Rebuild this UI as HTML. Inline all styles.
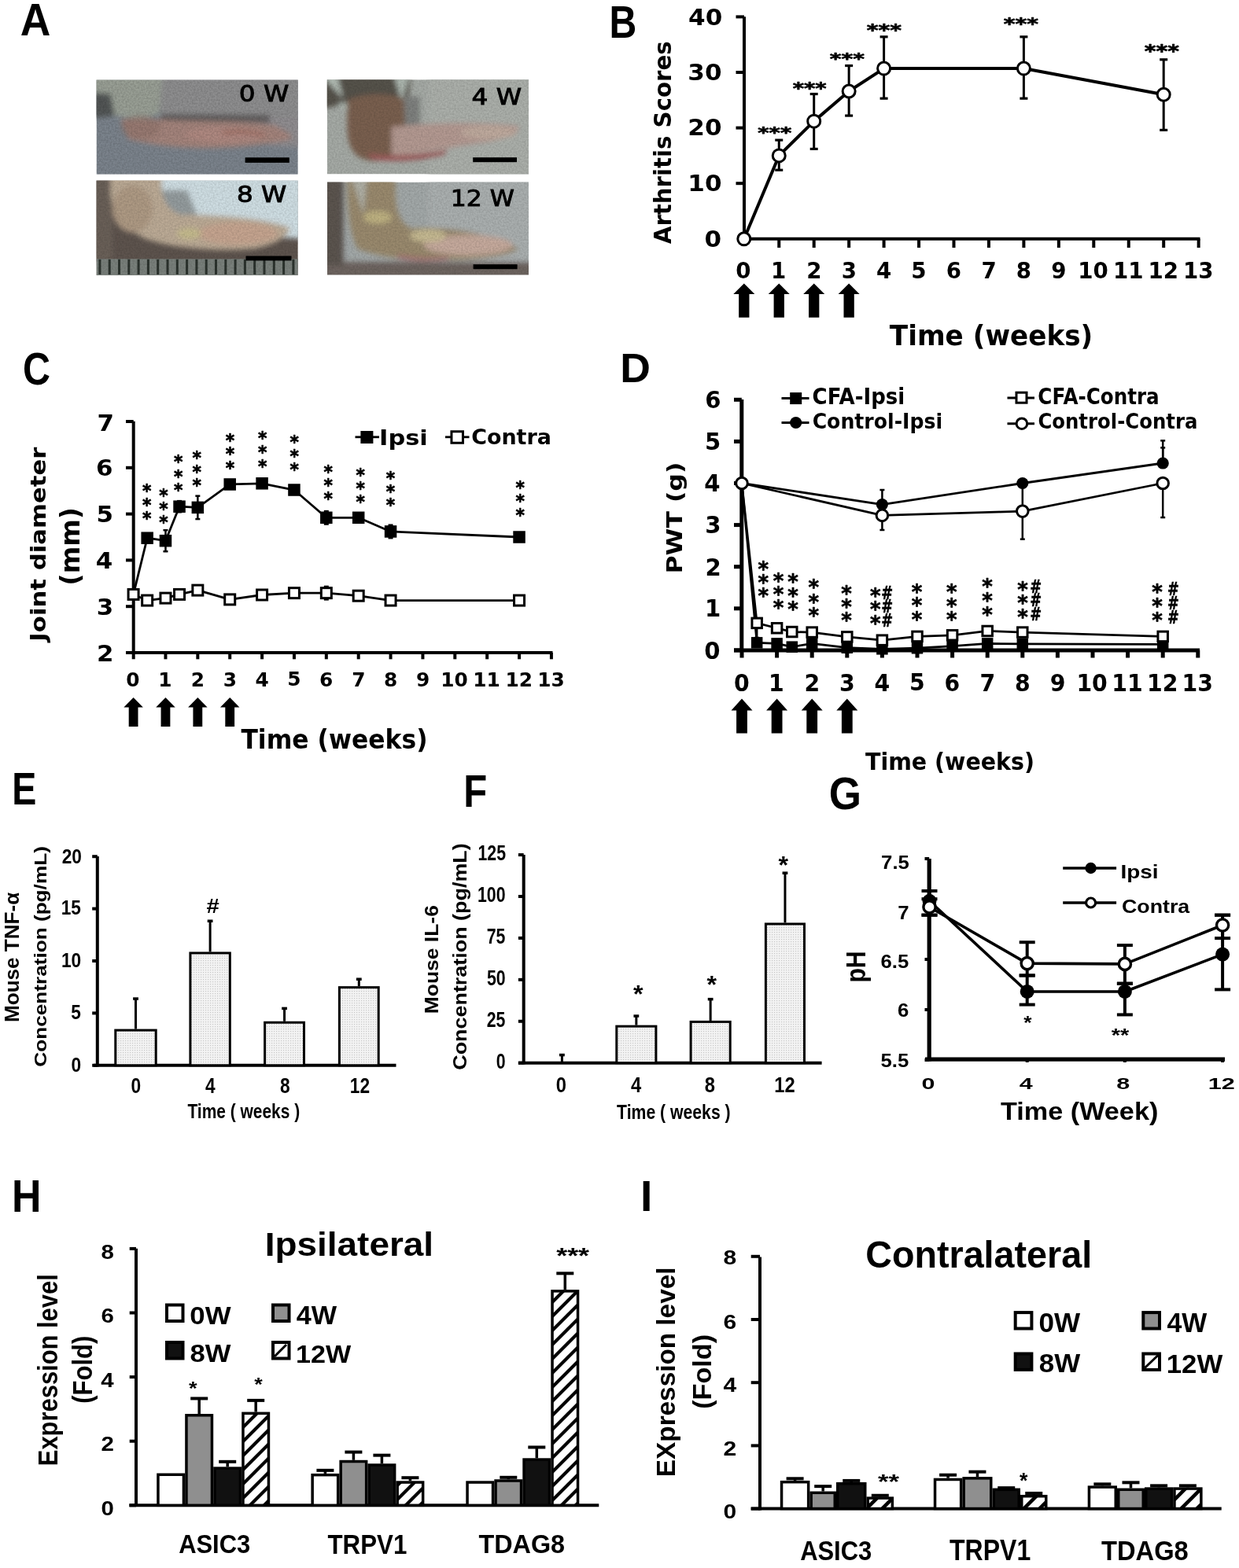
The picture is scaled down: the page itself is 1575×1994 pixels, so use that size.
<!DOCTYPE html>
<html><head><meta charset="utf-8"><title>Figure</title>
<style>html,body{margin:0;padding:0;background:#fff;}svg{display:block;filter:blur(0.55px);}</style>
</head><body>
<svg xmlns="http://www.w3.org/2000/svg" width="1575" height="1994" viewBox="0 0 1575 1994">
<rect x="0" y="0" width="1575" height="1994" fill="#fff"/>
<text transform="translate(25.81,44.55) scale(0.9347,1)" font-family='"Liberation Sans", Arial, sans-serif' font-weight="bold" font-size="57.16" fill="#000">A</text>
<text transform="translate(774.50,48.05) scale(0.8389,1)" font-family='"Liberation Sans", Arial, sans-serif' font-weight="bold" font-size="57.45" fill="#000">B</text>
<text transform="translate(29.11,488.77) scale(0.8331,1)" font-family='"Liberation Sans", Arial, sans-serif' font-weight="bold" font-size="58.09" fill="#000">C</text>
<text transform="translate(788.24,485.55) scale(1.0459,1)" font-family='"Liberation Sans", Arial, sans-serif' font-weight="bold" font-size="51.20" fill="#000">D</text>
<text transform="translate(15.30,1022.55) scale(0.8133,1)" font-family='"Liberation Sans", Arial, sans-serif' font-weight="bold" font-size="57.31" fill="#000">E</text>
<text transform="translate(589.14,1025.75) scale(0.8649,1)" font-family='"Liberation Sans", Arial, sans-serif' font-weight="bold" font-size="56.73" fill="#000">F</text>
<text transform="translate(1053.73,1028.57) scale(0.9174,1)" font-family='"Liberation Sans", Arial, sans-serif' font-weight="bold" font-size="57.81" fill="#000">G</text>
<text transform="translate(14.95,1540.55) scale(0.8990,1)" font-family='"Liberation Sans", Arial, sans-serif' font-weight="bold" font-size="57.75" fill="#000">H</text>
<text transform="translate(814.11,1539.75) scale(1.0083,1)" font-family='"Liberation Sans", Arial, sans-serif' font-weight="bold" font-size="54.98" fill="#000">I</text>
<defs>
<filter id="bl3" x="-20%" y="-20%" width="140%" height="140%"><feGaussianBlur stdDeviation="3"/></filter>
<filter id="tex" x="0" y="0" width="100%" height="100%">
 <feTurbulence type="fractalNoise" baseFrequency="0.45" numOctaves="2" seed="3" result="n"/>
 <feColorMatrix in="n" type="matrix" values="0 0 0 0 0  0 0 0 0 0  0 0 0 0 0  0 0 0 0.9 -0.25" result="a"/>
 <feComposite in="a" in2="SourceGraphic" operator="in"/>
</filter>
<clipPath id="cp1"><rect x="122.5" y="101.6" width="256.3" height="120.2"/></clipPath>
<clipPath id="cp2"><rect x="415.7" y="101.2" width="256.3" height="120.3"/></clipPath>
<clipPath id="cp3"><rect x="122.5" y="229.6" width="256.3" height="120.6"/></clipPath>
<clipPath id="cp4"><rect x="416" y="231.6" width="256" height="117.8"/></clipPath>
</defs>
<g clip-path="url(#cp1)">
<rect x="122.50" y="101.60" width="256.30" height="120.20" fill="#7c848d"/>
<g filter="url(#bl3)">
<path d="M 199.4,89.6 L 404.4,89.6 L 404.4,188.1 L 353.2,176.1 L 348.0,155.7 L 204.5,153.3 Z" fill="#8f8f90"/>
<path d="M 204.5,144.9 L 342.9,146.1 L 342.9,155.7 L 204.5,154.5 Z" fill="#625e5f"/>
<path d="M 342.9,149.7 L 404.4,149.7 L 404.4,188.1 L 342.9,185.7 Z" fill="#918e91"/>
<path d="M 96.9,89.6 L 207.1,89.6 L 202.0,144.9 L 178.9,152.1 L 148.1,147.3 L 96.9,137.7 Z" fill="#9aa096"/>
<path d="M 96.9,116.0 L 140.4,119.6 L 145.6,147.3 L 96.9,152.1 Z" fill="#525656"/>
<path d="M 153.3,152.1 C 173.8,149.7 199.4,152.1 225.0,153.3 C 276.3,154.5 327.5,154.5 348.0,159.3 C 360.9,165.3 371.1,171.3 371.1,176.1 C 353.2,182.1 314.7,186.9 276.3,188.1 C 237.8,189.3 199.4,185.7 163.5,177.3 Z" fill="#a5857d"/>
<ellipse cx="178.9" cy="161.7" rx="25.6" ry="15.6" fill="#86696365"/>
<ellipse cx="286.5" cy="171.3" rx="51.3" ry="9.6" fill="#b08a82"/>
<path d="M 281.4,167.7 C 301.9,162.9 322.4,165.3 337.8,171.3 L 332.7,173.7 C 317.3,168.9 301.9,168.9 284.0,171.3 Z" fill="#9c6a60"/>
</g>
<rect x="122.50" y="101.60" width="256.30" height="120.20" fill="#4a5054" filter="url(#tex)" opacity="0.3"/>
</g>
<rect x="311.60" y="200.30" width="56.20" height="6.60" fill="#000"/>
<text transform="translate(303.67,129.29) scale(1.1865,1)" font-family='"DejaVu Sans", "Liberation Sans", sans-serif' font-weight="normal" font-size="27.59" fill="#000" stroke="#000" stroke-width="0.9">0 W</text>
<g clip-path="url(#cp2)">
<rect x="415.70" y="101.20" width="256.30" height="120.30" fill="#a6aba6"/>
<g filter="url(#bl3)">
<path d="M 543.9,89.2 L 697.6,89.2 L 697.6,233.5 L 543.9,233.5 Z" fill="#acb0ab"/>
<path d="M 390.1,89.2 L 523.3,89.2 L 518.2,134.9 L 492.6,125.3 L 441.3,131.3 L 390.1,143.3 Z" fill="#57524b"/>
<path d="M 508.0,122.9 L 533.6,122.9 L 533.6,167.4 L 508.0,167.4 Z" fill="#7e807e"/>
<path d="M 408.0,95.2 L 428.5,95.2 L 436.2,125.3 Z" fill="#b4beb6"/>
<path d="M 500.3,95.2 L 520.8,95.2 L 510.5,130.1 Z" fill="#aeb8b0"/>
<path d="M 428.5,131.3 L 456.7,128.9 L 441.3,140.9 Z" fill="#aeb8b0"/>
<path d="M 441.3,127.7 C 461.8,118.0 492.6,118.0 513.1,125.3 L 515.7,171.0 C 513.1,192.6 497.7,204.7 472.1,204.7 C 449.0,202.3 441.3,185.4 441.3,161.3 Z" fill="#7a604f"/>
<path d="M 497.7,161.3 C 543.9,156.5 607.9,154.1 659.2,160.1 C 661.7,168.6 646.4,175.8 620.7,180.6 C 569.5,187.8 531.0,195.0 497.7,199.8 Z" fill="#b49a92"/>
<ellipse cx="620.7" cy="168.6" rx="35.9" ry="8.4" fill="#bfaa9e"/>
<path d="M 467.0,195.0 C 492.6,199.8 531.0,197.4 569.5,190.2 L 564.4,197.4 C 531.0,204.7 492.6,207.1 472.1,202.3 Z" fill="#9e5c5c"/>
</g>
<rect x="415.70" y="101.20" width="256.30" height="120.30" fill="#4a5054" filter="url(#tex)" opacity="0.25"/>
</g>
<rect x="601.20" y="200.20" width="55.80" height="6.00" fill="#000"/>
<text transform="translate(599.44,133.40) scale(1.1663,1)" font-family='"DejaVu Sans", "Liberation Sans", sans-serif' font-weight="normal" font-size="28.08" fill="#000" stroke="#000" stroke-width="0.9">4 W</text>
<g clip-path="url(#cp3)">
<rect x="122.50" y="229.60" width="256.30" height="120.60" fill="#5e544e"/>
<g filter="url(#bl3)">
<path d="M 199.4,217.5 L 404.4,217.5 L 404.4,304.4 L 353.2,302.0 L 276.3,275.4 L 207.1,273.0 Z" fill="#d0dfe4"/>
<path d="M 204.5,241.7 L 237.8,241.7 L 250.7,273.0 L 207.1,274.2 Z" fill="#949c9e"/>
<path d="M 96.9,217.5 L 143.0,217.5 L 143.0,332.1 L 96.9,332.1 Z" fill="#6a6058"/>
<path d="M 140.4,217.5 L 207.1,217.5 C 202.0,241.7 207.1,265.8 230.1,273.0 C 276.3,273.0 340.4,277.8 368.5,289.9 C 366.0,302.0 348.0,311.6 322.4,316.4 C 276.3,320.0 225.0,316.4 186.6,304.4 C 153.3,289.9 140.4,265.8 140.4,241.7 Z" fill="#bcab96"/>
<ellipse cx="301.9" cy="297.1" rx="51.3" ry="14.5" fill="#c6a590"/>
<ellipse cx="240.4" cy="297.1" rx="15.4" ry="7.2" fill="#c6bb8e"/>
<ellipse cx="168.6" cy="265.8" rx="25.6" ry="30.1" fill="#ae9a84"/>
</g>
<rect x="122.50" y="329.30" width="256.30" height="20.90" fill="#7a817c"/>
<rect x="125.40" y="329.80" width="3.00" height="19.20" fill="#2c332e"/>
<rect x="137.70" y="329.80" width="3.00" height="19.20" fill="#2c332e"/>
<rect x="150.00" y="329.80" width="3.00" height="19.20" fill="#2c332e"/>
<rect x="162.30" y="329.80" width="3.00" height="19.20" fill="#2c332e"/>
<rect x="174.60" y="329.80" width="3.00" height="19.20" fill="#2c332e"/>
<rect x="186.90" y="329.80" width="3.00" height="19.20" fill="#2c332e"/>
<rect x="199.20" y="329.80" width="3.00" height="19.20" fill="#2c332e"/>
<rect x="211.50" y="329.80" width="3.00" height="19.20" fill="#2c332e"/>
<rect x="223.80" y="329.80" width="3.00" height="19.20" fill="#2c332e"/>
<rect x="236.10" y="329.80" width="3.00" height="19.20" fill="#2c332e"/>
<rect x="248.40" y="329.80" width="3.00" height="19.20" fill="#2c332e"/>
<rect x="260.70" y="329.80" width="3.00" height="19.20" fill="#2c332e"/>
<rect x="273.00" y="329.80" width="3.00" height="19.20" fill="#2c332e"/>
<rect x="285.30" y="329.80" width="3.00" height="19.20" fill="#2c332e"/>
<rect x="297.60" y="329.80" width="3.00" height="19.20" fill="#2c332e"/>
<rect x="309.90" y="329.80" width="3.00" height="19.20" fill="#2c332e"/>
<rect x="322.20" y="329.80" width="3.00" height="19.20" fill="#2c332e"/>
<rect x="334.50" y="329.80" width="3.00" height="19.20" fill="#2c332e"/>
<rect x="346.80" y="329.80" width="3.00" height="19.20" fill="#2c332e"/>
<rect x="359.10" y="329.80" width="3.00" height="19.20" fill="#2c332e"/>
<rect x="371.40" y="329.80" width="3.00" height="19.20" fill="#2c332e"/>
<rect x="122.50" y="229.60" width="256.30" height="120.60" fill="#4a5054" filter="url(#tex)" opacity="0.25"/>
</g>
<rect x="312.50" y="325.50" width="58.00" height="5.90" fill="#000"/>
<text transform="translate(301.00,257.49) scale(1.1822,1)" font-family='"DejaVu Sans", "Liberation Sans", sans-serif' font-weight="normal" font-size="27.59" fill="#000" stroke="#000" stroke-width="0.9">8 W</text>
<g clip-path="url(#cp4)">
<rect x="416.00" y="231.60" width="256.00" height="117.80" fill="#a3a9a9"/>
<g filter="url(#bl3)">
<path d="M 544.0,219.8 L 697.6,219.8 L 697.6,361.2 L 544.0,361.2 Z" fill="#abb0b0"/>
<path d="M 390.4,332.9 L 697.6,332.9 L 697.6,361.2 L 390.4,361.2 Z" fill="#6e6560"/>
<path d="M 390.4,219.8 L 436.5,219.8 L 436.5,337.6 L 390.4,337.6 Z" fill="#5c544f"/>
<path d="M 441.6,219.8 C 467.2,219.8 492.8,219.8 503.0,231.6 C 500.5,255.2 505.6,284.6 523.5,290.5 C 569.6,287.0 620.8,296.4 659.2,316.4 C 646.4,325.8 608.0,330.6 569.6,330.6 C 518.4,332.9 480.0,325.8 454.4,316.4 C 441.6,290.5 441.6,255.2 441.6,219.8 Z" fill="#9a8a6e"/>
<ellipse cx="595.2" cy="311.7" rx="56.3" ry="13.0" fill="#c6aa9d"/>
<ellipse cx="480.0" cy="276.4" rx="17.9" ry="8.2" fill="#bfb282"/>
<ellipse cx="544.0" cy="299.9" rx="23.0" ry="8.2" fill="#c6ba92"/>
<path d="M 444.2,219.8 L 467.2,219.8 L 462.1,272.8 Z" fill="#b0b0a6"/>
<path d="M 505.6,323.5 C 531.2,328.2 556.8,328.2 569.6,325.8 L 569.6,330.6 C 544.0,332.9 523.5,331.7 505.6,328.2 Z" fill="#a46e6e"/>
</g>
<rect x="416.00" y="231.60" width="256.00" height="117.80" fill="#4a5054" filter="url(#tex)" opacity="0.25"/>
</g>
<rect x="601.60" y="336.20" width="56.00" height="6.00" fill="#000"/>
<text transform="translate(572.64,261.90) scale(1.1244,1)" font-family='"DejaVu Sans", "Liberation Sans", sans-serif' font-weight="normal" font-size="28.01" fill="#000" stroke="#000" stroke-width="0.9">12 W</text>
<line x1="946.00" y1="21.30" x2="946.00" y2="305.80" stroke="#000" stroke-width="4" stroke-linecap="butt"/>
<line x1="944.00" y1="303.80" x2="1525.50" y2="303.80" stroke="#000" stroke-width="4" stroke-linecap="butt"/>
<line x1="935.50" y1="233.20" x2="946.00" y2="233.20" stroke="#000" stroke-width="4" stroke-linecap="butt"/>
<line x1="935.50" y1="162.60" x2="946.00" y2="162.60" stroke="#000" stroke-width="4" stroke-linecap="butt"/>
<line x1="935.50" y1="92.00" x2="946.00" y2="92.00" stroke="#000" stroke-width="4" stroke-linecap="butt"/>
<line x1="935.50" y1="21.40" x2="946.00" y2="21.40" stroke="#000" stroke-width="4" stroke-linecap="butt"/>
<line x1="990.25" y1="303.80" x2="990.25" y2="315.00" stroke="#000" stroke-width="4" stroke-linecap="butt"/>
<line x1="1034.70" y1="303.80" x2="1034.70" y2="315.00" stroke="#000" stroke-width="4" stroke-linecap="butt"/>
<line x1="1079.15" y1="303.80" x2="1079.15" y2="315.00" stroke="#000" stroke-width="4" stroke-linecap="butt"/>
<line x1="1123.60" y1="303.80" x2="1123.60" y2="315.00" stroke="#000" stroke-width="4" stroke-linecap="butt"/>
<line x1="1168.05" y1="303.80" x2="1168.05" y2="315.00" stroke="#000" stroke-width="4" stroke-linecap="butt"/>
<line x1="1212.50" y1="303.80" x2="1212.50" y2="315.00" stroke="#000" stroke-width="4" stroke-linecap="butt"/>
<line x1="1256.95" y1="303.80" x2="1256.95" y2="315.00" stroke="#000" stroke-width="4" stroke-linecap="butt"/>
<line x1="1301.40" y1="303.80" x2="1301.40" y2="315.00" stroke="#000" stroke-width="4" stroke-linecap="butt"/>
<line x1="1345.85" y1="303.80" x2="1345.85" y2="315.00" stroke="#000" stroke-width="4" stroke-linecap="butt"/>
<line x1="1390.30" y1="303.80" x2="1390.30" y2="315.00" stroke="#000" stroke-width="4" stroke-linecap="butt"/>
<line x1="1434.75" y1="303.80" x2="1434.75" y2="315.00" stroke="#000" stroke-width="4" stroke-linecap="butt"/>
<line x1="1479.20" y1="303.80" x2="1479.20" y2="315.00" stroke="#000" stroke-width="4" stroke-linecap="butt"/>
<line x1="1523.65" y1="303.80" x2="1523.65" y2="315.00" stroke="#000" stroke-width="4" stroke-linecap="butt"/>
<text transform="translate(875.10,31.58) scale(1.1204,1)" font-family='"DejaVu Sans", "Liberation Sans", sans-serif' font-weight="bold" font-size="27.72" fill="#000">40</text>
<text transform="translate(874.30,101.78) scale(1.1204,1)" font-family='"DejaVu Sans", "Liberation Sans", sans-serif' font-weight="bold" font-size="27.72" fill="#000">30</text>
<text transform="translate(874.30,172.38) scale(1.1204,1)" font-family='"DejaVu Sans", "Liberation Sans", sans-serif' font-weight="bold" font-size="27.72" fill="#000">20</text>
<text transform="translate(874.30,242.98) scale(1.1204,1)" font-family='"DejaVu Sans", "Liberation Sans", sans-serif' font-weight="bold" font-size="27.72" fill="#000">10</text>
<text transform="translate(895.39,314.08) scale(1.1204,1)" font-family='"DejaVu Sans", "Liberation Sans", sans-serif' font-weight="bold" font-size="27.72" fill="#000">0</text>
<text transform="translate(935.29,353.87) scale(0.9748,1)" font-family='"DejaVu Sans", "Liberation Sans", sans-serif' font-weight="bold" font-size="28.38" fill="#000">0</text>
<text transform="translate(980.01,353.91) scale(0.9748,1)" font-family='"DejaVu Sans", "Liberation Sans", sans-serif' font-weight="bold" font-size="28.38" fill="#000">1</text>
<text transform="translate(1025.15,354.09) scale(0.9748,1)" font-family='"DejaVu Sans", "Liberation Sans", sans-serif' font-weight="bold" font-size="28.38" fill="#000">2</text>
<text transform="translate(1069.67,353.87) scale(0.9748,1)" font-family='"DejaVu Sans", "Liberation Sans", sans-serif' font-weight="bold" font-size="28.38" fill="#000">3</text>
<text transform="translate(1113.99,353.91) scale(0.9748,1)" font-family='"DejaVu Sans", "Liberation Sans", sans-serif' font-weight="bold" font-size="28.38" fill="#000">4</text>
<text transform="translate(1158.33,353.70) scale(0.9748,1)" font-family='"DejaVu Sans", "Liberation Sans", sans-serif' font-weight="bold" font-size="28.38" fill="#000">5</text>
<text transform="translate(1202.75,353.84) scale(0.9748,1)" font-family='"DejaVu Sans", "Liberation Sans", sans-serif' font-weight="bold" font-size="28.38" fill="#000">6</text>
<text transform="translate(1247.47,353.91) scale(0.9748,1)" font-family='"DejaVu Sans", "Liberation Sans", sans-serif' font-weight="bold" font-size="28.38" fill="#000">7</text>
<text transform="translate(1291.79,353.87) scale(0.9748,1)" font-family='"DejaVu Sans", "Liberation Sans", sans-serif' font-weight="bold" font-size="28.38" fill="#000">8</text>
<text transform="translate(1336.37,353.84) scale(0.9748,1)" font-family='"DejaVu Sans", "Liberation Sans", sans-serif' font-weight="bold" font-size="28.38" fill="#000">9</text>
<text transform="translate(1370.17,353.87) scale(0.9748,1)" font-family='"DejaVu Sans", "Liberation Sans", sans-serif' font-weight="bold" font-size="28.38" fill="#000">10</text>
<text transform="translate(1414.90,353.91) scale(0.9748,1)" font-family='"DejaVu Sans", "Liberation Sans", sans-serif' font-weight="bold" font-size="28.38" fill="#000">11</text>
<text transform="translate(1459.59,354.09) scale(0.9748,1)" font-family='"DejaVu Sans", "Liberation Sans", sans-serif' font-weight="bold" font-size="28.38" fill="#000">12</text>
<text transform="translate(1503.94,353.87) scale(0.9748,1)" font-family='"DejaVu Sans", "Liberation Sans", sans-serif' font-weight="bold" font-size="28.38" fill="#000">13</text>
<polygon points="945.80,360.50 959.30,374.00 952.45,374.00 952.45,403.80 939.15,403.80 939.15,374.00 932.30,374.00" fill="#000"/>
<polygon points="990.25,360.50 1003.75,374.00 996.90,374.00 996.90,403.80 983.60,403.80 983.60,374.00 976.75,374.00" fill="#000"/>
<polygon points="1034.70,360.50 1048.20,374.00 1041.35,374.00 1041.35,403.80 1028.05,403.80 1028.05,374.00 1021.20,374.00" fill="#000"/>
<polygon points="1079.15,360.50 1092.65,374.00 1085.80,374.00 1085.80,403.80 1072.50,403.80 1072.50,374.00 1065.65,374.00" fill="#000"/>
<text transform="translate(1130.83,438.58) scale(0.9440,1)" font-family='"DejaVu Sans", "Liberation Sans", sans-serif' font-weight="bold" font-size="36.29" fill="#000">Time (weeks)</text>
<text transform="translate(852.94,310.25) rotate(-90) scale(0.9444,1)" font-family='"DejaVu Sans", "Liberation Sans", sans-serif' font-weight="bold" font-size="30.97" fill="#000">Arthritis Scores</text>
<line x1="990.25" y1="178.13" x2="990.25" y2="216.26" stroke="#000" stroke-width="3" stroke-linecap="butt"/>
<line x1="985.25" y1="178.13" x2="995.25" y2="178.13" stroke="#000" stroke-width="3.2" stroke-linecap="butt"/>
<line x1="985.25" y1="216.26" x2="995.25" y2="216.26" stroke="#000" stroke-width="3.2" stroke-linecap="butt"/>
<line x1="1034.70" y1="119.53" x2="1034.70" y2="189.43" stroke="#000" stroke-width="3" stroke-linecap="butt"/>
<line x1="1029.70" y1="119.53" x2="1039.70" y2="119.53" stroke="#000" stroke-width="3.2" stroke-linecap="butt"/>
<line x1="1029.70" y1="189.43" x2="1039.70" y2="189.43" stroke="#000" stroke-width="3.2" stroke-linecap="butt"/>
<line x1="1079.15" y1="83.53" x2="1079.15" y2="147.07" stroke="#000" stroke-width="3" stroke-linecap="butt"/>
<line x1="1074.15" y1="83.53" x2="1084.15" y2="83.53" stroke="#000" stroke-width="3.2" stroke-linecap="butt"/>
<line x1="1074.15" y1="147.07" x2="1084.15" y2="147.07" stroke="#000" stroke-width="3.2" stroke-linecap="butt"/>
<line x1="1123.60" y1="46.82" x2="1123.60" y2="125.18" stroke="#000" stroke-width="3" stroke-linecap="butt"/>
<line x1="1118.60" y1="46.82" x2="1128.60" y2="46.82" stroke="#000" stroke-width="3.2" stroke-linecap="butt"/>
<line x1="1118.60" y1="125.18" x2="1128.60" y2="125.18" stroke="#000" stroke-width="3.2" stroke-linecap="butt"/>
<line x1="1301.40" y1="46.82" x2="1301.40" y2="125.18" stroke="#000" stroke-width="3" stroke-linecap="butt"/>
<line x1="1296.40" y1="46.82" x2="1306.40" y2="46.82" stroke="#000" stroke-width="3.2" stroke-linecap="butt"/>
<line x1="1296.40" y1="125.18" x2="1306.40" y2="125.18" stroke="#000" stroke-width="3.2" stroke-linecap="butt"/>
<line x1="1479.20" y1="75.76" x2="1479.20" y2="165.42" stroke="#000" stroke-width="3" stroke-linecap="butt"/>
<line x1="1474.20" y1="75.76" x2="1484.20" y2="75.76" stroke="#000" stroke-width="3.2" stroke-linecap="butt"/>
<line x1="1474.20" y1="165.42" x2="1484.20" y2="165.42" stroke="#000" stroke-width="3.2" stroke-linecap="butt"/>
<polyline points="945.80,303.80 990.25,197.90 1034.70,154.13 1079.15,116.00 1123.60,87.06 1301.40,87.06 1479.20,120.24" fill="none" stroke="#000" stroke-width="4" stroke-linejoin="round"/>
<circle cx="945.80" cy="303.80" r="8.00" fill="#fff" stroke="#000" stroke-width="3"/>
<circle cx="990.25" cy="197.90" r="8.00" fill="#fff" stroke="#000" stroke-width="3"/>
<circle cx="1034.70" cy="154.13" r="8.00" fill="#fff" stroke="#000" stroke-width="3"/>
<circle cx="1079.15" cy="116.00" r="8.00" fill="#fff" stroke="#000" stroke-width="3"/>
<circle cx="1123.60" cy="87.06" r="8.00" fill="#fff" stroke="#000" stroke-width="3"/>
<circle cx="1301.40" cy="87.06" r="8.00" fill="#fff" stroke="#000" stroke-width="3"/>
<circle cx="1479.20" cy="120.24" r="8.00" fill="#fff" stroke="#000" stroke-width="3"/>
<text transform="translate(963.35,174.75) scale(1.4425,1)" font-family='"DejaVu Sans", "Liberation Sans", sans-serif' font-weight="bold" font-size="18.92" fill="#000" stroke="#000" stroke-width="0.7" stroke-linejoin="round">***</text>
<text transform="translate(1007.75,119.57) scale(1.2725,1)" font-family='"DejaVu Sans", "Liberation Sans", sans-serif' font-weight="bold" font-size="21.51" fill="#000" stroke="#000" stroke-width="0.7" stroke-linejoin="round">***</text>
<text transform="translate(1054.74,81.05) scale(1.4075,1)" font-family='"DejaVu Sans", "Liberation Sans", sans-serif' font-weight="bold" font-size="20.00" fill="#000" stroke="#000" stroke-width="0.7" stroke-linejoin="round">***</text>
<text transform="translate(1101.74,45.87) scale(1.3090,1)" font-family='"DejaVu Sans", "Liberation Sans", sans-serif' font-weight="bold" font-size="21.51" fill="#000" stroke="#000" stroke-width="0.7" stroke-linejoin="round">***</text>
<text transform="translate(1275.74,38.27) scale(1.3090,1)" font-family='"DejaVu Sans", "Liberation Sans", sans-serif' font-weight="bold" font-size="21.51" fill="#000" stroke="#000" stroke-width="0.7" stroke-linejoin="round">***</text>
<text transform="translate(1454.74,72.63) scale(1.2349,1)" font-family='"DejaVu Sans", "Liberation Sans", sans-serif' font-weight="bold" font-size="22.80" fill="#000" stroke="#000" stroke-width="0.7" stroke-linejoin="round">***</text>
<line x1="169.70" y1="535.80" x2="169.70" y2="838.30" stroke="#000" stroke-width="4" stroke-linecap="butt"/>
<line x1="160.00" y1="830.00" x2="702.50" y2="830.00" stroke="#000" stroke-width="4" stroke-linecap="butt"/>
<line x1="160.00" y1="771.20" x2="169.70" y2="771.20" stroke="#000" stroke-width="4" stroke-linecap="butt"/>
<line x1="160.00" y1="712.40" x2="169.70" y2="712.40" stroke="#000" stroke-width="4" stroke-linecap="butt"/>
<line x1="160.00" y1="653.60" x2="169.70" y2="653.60" stroke="#000" stroke-width="4" stroke-linecap="butt"/>
<line x1="160.00" y1="594.80" x2="169.70" y2="594.80" stroke="#000" stroke-width="4" stroke-linecap="butt"/>
<line x1="160.00" y1="536.00" x2="169.70" y2="536.00" stroke="#000" stroke-width="4" stroke-linecap="butt"/>
<line x1="210.47" y1="830.00" x2="210.47" y2="838.30" stroke="#000" stroke-width="4" stroke-linecap="butt"/>
<line x1="251.34" y1="830.00" x2="251.34" y2="838.30" stroke="#000" stroke-width="4" stroke-linecap="butt"/>
<line x1="292.21" y1="830.00" x2="292.21" y2="838.30" stroke="#000" stroke-width="4" stroke-linecap="butt"/>
<line x1="333.08" y1="830.00" x2="333.08" y2="838.30" stroke="#000" stroke-width="4" stroke-linecap="butt"/>
<line x1="373.95" y1="830.00" x2="373.95" y2="838.30" stroke="#000" stroke-width="4" stroke-linecap="butt"/>
<line x1="414.82" y1="830.00" x2="414.82" y2="838.30" stroke="#000" stroke-width="4" stroke-linecap="butt"/>
<line x1="455.69" y1="830.00" x2="455.69" y2="838.30" stroke="#000" stroke-width="4" stroke-linecap="butt"/>
<line x1="496.56" y1="830.00" x2="496.56" y2="838.30" stroke="#000" stroke-width="4" stroke-linecap="butt"/>
<line x1="537.43" y1="830.00" x2="537.43" y2="838.30" stroke="#000" stroke-width="4" stroke-linecap="butt"/>
<line x1="578.30" y1="830.00" x2="578.30" y2="838.30" stroke="#000" stroke-width="4" stroke-linecap="butt"/>
<line x1="619.17" y1="830.00" x2="619.17" y2="838.30" stroke="#000" stroke-width="4" stroke-linecap="butt"/>
<line x1="660.04" y1="830.00" x2="660.04" y2="838.30" stroke="#000" stroke-width="4" stroke-linecap="butt"/>
<line x1="700.91" y1="830.00" x2="700.91" y2="838.30" stroke="#000" stroke-width="4" stroke-linecap="butt"/>
<text transform="translate(123.51,547.60) scale(1.0593,1)" font-family='"DejaVu Sans", "Liberation Sans", sans-serif' font-weight="bold" font-size="29.18" fill="#000">7</text>
<text transform="translate(122.95,840.83) scale(1.0593,1)" font-family='"DejaVu Sans", "Liberation Sans", sans-serif' font-weight="bold" font-size="29.18" fill="#000">2</text>
<text transform="translate(122.71,781.81) scale(1.0593,1)" font-family='"DejaVu Sans", "Liberation Sans", sans-serif' font-weight="bold" font-size="29.18" fill="#000">3</text>
<text transform="translate(121.71,723.05) scale(1.0593,1)" font-family='"DejaVu Sans", "Liberation Sans", sans-serif' font-weight="bold" font-size="29.18" fill="#000">4</text>
<text transform="translate(122.48,664.03) scale(1.0593,1)" font-family='"DejaVu Sans", "Liberation Sans", sans-serif' font-weight="bold" font-size="29.18" fill="#000">5</text>
<text transform="translate(121.94,605.38) scale(1.0593,1)" font-family='"DejaVu Sans", "Liberation Sans", sans-serif' font-weight="bold" font-size="29.18" fill="#000">6</text>
<text transform="translate(160.22,872.53) scale(1.0114,1)" font-family='"DejaVu Sans", "Liberation Sans", sans-serif' font-weight="bold" font-size="24.55" fill="#000">0</text>
<text transform="translate(201.28,872.56) scale(1.0114,1)" font-family='"DejaVu Sans", "Liberation Sans", sans-serif' font-weight="bold" font-size="24.55" fill="#000">1</text>
<text transform="translate(242.77,872.72) scale(1.0114,1)" font-family='"DejaVu Sans", "Liberation Sans", sans-serif' font-weight="bold" font-size="24.55" fill="#000">2</text>
<text transform="translate(283.70,872.53) scale(1.0114,1)" font-family='"DejaVu Sans", "Liberation Sans", sans-serif' font-weight="bold" font-size="24.55" fill="#000">3</text>
<text transform="translate(324.45,872.56) scale(1.0114,1)" font-family='"DejaVu Sans", "Liberation Sans", sans-serif' font-weight="bold" font-size="24.55" fill="#000">4</text>
<text transform="translate(365.23,872.38) scale(1.0114,1)" font-family='"DejaVu Sans", "Liberation Sans", sans-serif' font-weight="bold" font-size="24.55" fill="#000">5</text>
<text transform="translate(406.07,872.50) scale(1.0114,1)" font-family='"DejaVu Sans", "Liberation Sans", sans-serif' font-weight="bold" font-size="24.55" fill="#000">6</text>
<text transform="translate(447.18,872.56) scale(1.0114,1)" font-family='"DejaVu Sans", "Liberation Sans", sans-serif' font-weight="bold" font-size="24.55" fill="#000">7</text>
<text transform="translate(487.93,872.53) scale(1.0114,1)" font-family='"DejaVu Sans", "Liberation Sans", sans-serif' font-weight="bold" font-size="24.55" fill="#000">8</text>
<text transform="translate(528.92,872.50) scale(1.0114,1)" font-family='"DejaVu Sans", "Liberation Sans", sans-serif' font-weight="bold" font-size="24.55" fill="#000">9</text>
<text transform="translate(560.23,872.53) scale(1.0114,1)" font-family='"DejaVu Sans", "Liberation Sans", sans-serif' font-weight="bold" font-size="24.55" fill="#000">10</text>
<text transform="translate(601.35,872.56) scale(1.0114,1)" font-family='"DejaVu Sans", "Liberation Sans", sans-serif' font-weight="bold" font-size="24.55" fill="#000">11</text>
<text transform="translate(642.44,872.72) scale(1.0114,1)" font-family='"DejaVu Sans", "Liberation Sans", sans-serif' font-weight="bold" font-size="24.55" fill="#000">12</text>
<text transform="translate(683.22,872.53) scale(1.0114,1)" font-family='"DejaVu Sans", "Liberation Sans", sans-serif' font-weight="bold" font-size="24.55" fill="#000">13</text>
<polygon points="169.60,887.00 181.85,899.50 175.50,899.50 175.50,924.00 163.70,924.00 163.70,899.50 157.35,899.50" fill="#000"/>
<polygon points="210.47,887.00 222.72,899.50 216.37,899.50 216.37,924.00 204.57,924.00 204.57,899.50 198.22,899.50" fill="#000"/>
<polygon points="251.34,887.00 263.59,899.50 257.24,899.50 257.24,924.00 245.44,924.00 245.44,899.50 239.09,899.50" fill="#000"/>
<polygon points="292.21,887.00 304.46,899.50 298.11,899.50 298.11,924.00 286.31,924.00 286.31,899.50 279.96,899.50" fill="#000"/>
<text transform="translate(306.44,952.27) scale(0.9231,1)" font-family='"DejaVu Sans", "Liberation Sans", sans-serif' font-weight="bold" font-size="34.04" fill="#000">Time (weeks)</text>
<text transform="translate(58.25,815.63) rotate(-90) scale(1.1942,1)" font-family='"DejaVu Sans", "Liberation Sans", sans-serif' font-weight="bold" font-size="25.73" fill="#000">Joint diameter</text>
<text transform="translate(100.58,744.42) rotate(-90) scale(0.9962,1)" font-family='"DejaVu Sans", "Liberation Sans", sans-serif' font-weight="bold" font-size="33.26" fill="#000">(mm)</text>
<line x1="210.47" y1="674.18" x2="210.47" y2="701.23" stroke="#000" stroke-width="2.5" stroke-linecap="butt"/>
<line x1="207.47" y1="674.18" x2="213.47" y2="674.18" stroke="#000" stroke-width="2.5" stroke-linecap="butt"/>
<line x1="207.47" y1="701.23" x2="213.47" y2="701.23" stroke="#000" stroke-width="2.5" stroke-linecap="butt"/>
<line x1="228.04" y1="637.14" x2="228.04" y2="651.25" stroke="#000" stroke-width="2.5" stroke-linecap="butt"/>
<line x1="225.04" y1="637.14" x2="231.04" y2="637.14" stroke="#000" stroke-width="2.5" stroke-linecap="butt"/>
<line x1="225.04" y1="651.25" x2="231.04" y2="651.25" stroke="#000" stroke-width="2.5" stroke-linecap="butt"/>
<line x1="251.34" y1="630.67" x2="251.34" y2="660.07" stroke="#000" stroke-width="2.5" stroke-linecap="butt"/>
<line x1="248.34" y1="630.67" x2="254.34" y2="630.67" stroke="#000" stroke-width="2.5" stroke-linecap="butt"/>
<line x1="248.34" y1="660.07" x2="254.34" y2="660.07" stroke="#000" stroke-width="2.5" stroke-linecap="butt"/>
<line x1="414.82" y1="650.07" x2="414.82" y2="666.54" stroke="#000" stroke-width="2.5" stroke-linecap="butt"/>
<line x1="411.82" y1="650.07" x2="417.82" y2="650.07" stroke="#000" stroke-width="2.5" stroke-linecap="butt"/>
<line x1="411.82" y1="666.54" x2="417.82" y2="666.54" stroke="#000" stroke-width="2.5" stroke-linecap="butt"/>
<line x1="496.56" y1="667.71" x2="496.56" y2="684.18" stroke="#000" stroke-width="2.5" stroke-linecap="butt"/>
<line x1="493.56" y1="667.71" x2="499.56" y2="667.71" stroke="#000" stroke-width="2.5" stroke-linecap="butt"/>
<line x1="493.56" y1="684.18" x2="499.56" y2="684.18" stroke="#000" stroke-width="2.5" stroke-linecap="butt"/>
<line x1="187.17" y1="680.65" x2="187.17" y2="687.70" stroke="#000" stroke-width="2.5" stroke-linecap="butt"/>
<line x1="184.17" y1="680.65" x2="190.17" y2="680.65" stroke="#000" stroke-width="2.5" stroke-linecap="butt"/>
<line x1="184.17" y1="687.70" x2="190.17" y2="687.70" stroke="#000" stroke-width="2.5" stroke-linecap="butt"/>
<line x1="414.82" y1="745.92" x2="414.82" y2="762.38" stroke="#000" stroke-width="2.5" stroke-linecap="butt"/>
<line x1="411.82" y1="745.92" x2="417.82" y2="745.92" stroke="#000" stroke-width="2.5" stroke-linecap="butt"/>
<line x1="411.82" y1="762.38" x2="417.82" y2="762.38" stroke="#000" stroke-width="2.5" stroke-linecap="butt"/>
<polyline points="169.60,755.91 187.17,684.18 210.47,687.70 228.04,644.19 251.34,645.37 292.21,615.97 333.08,614.79 373.95,623.02 414.82,658.30 455.69,658.30 496.56,675.94 660.04,683.00" fill="none" stroke="#000" stroke-width="2.8" stroke-linejoin="round"/>
<polyline points="169.60,755.91 187.17,763.56 210.47,760.62 228.04,755.91 251.34,750.62 292.21,762.38 333.08,756.50 373.95,754.15 414.82,754.15 455.69,757.68 496.56,763.56 660.04,763.56" fill="none" stroke="#000" stroke-width="2.8" stroke-linejoin="round"/>
<rect x="180.17" y="677.18" width="14.00" height="14.00" fill="#000" stroke="#000" stroke-width="1.5"/>
<rect x="203.47" y="680.70" width="14.00" height="14.00" fill="#000" stroke="#000" stroke-width="1.5"/>
<rect x="221.04" y="637.19" width="14.00" height="14.00" fill="#000" stroke="#000" stroke-width="1.5"/>
<rect x="244.34" y="638.37" width="14.00" height="14.00" fill="#000" stroke="#000" stroke-width="1.5"/>
<rect x="285.21" y="608.97" width="14.00" height="14.00" fill="#000" stroke="#000" stroke-width="1.5"/>
<rect x="326.08" y="607.79" width="14.00" height="14.00" fill="#000" stroke="#000" stroke-width="1.5"/>
<rect x="366.95" y="616.02" width="14.00" height="14.00" fill="#000" stroke="#000" stroke-width="1.5"/>
<rect x="407.82" y="651.30" width="14.00" height="14.00" fill="#000" stroke="#000" stroke-width="1.5"/>
<rect x="448.69" y="651.30" width="14.00" height="14.00" fill="#000" stroke="#000" stroke-width="1.5"/>
<rect x="489.56" y="668.94" width="14.00" height="14.00" fill="#000" stroke="#000" stroke-width="1.5"/>
<rect x="653.04" y="676.00" width="14.00" height="14.00" fill="#000" stroke="#000" stroke-width="1.5"/>
<rect x="163.10" y="749.41" width="13.00" height="13.00" fill="#fff" stroke="#000" stroke-width="3"/>
<rect x="180.67" y="757.06" width="13.00" height="13.00" fill="#fff" stroke="#000" stroke-width="3"/>
<rect x="203.97" y="754.12" width="13.00" height="13.00" fill="#fff" stroke="#000" stroke-width="3"/>
<rect x="221.54" y="749.41" width="13.00" height="13.00" fill="#fff" stroke="#000" stroke-width="3"/>
<rect x="244.84" y="744.12" width="13.00" height="13.00" fill="#fff" stroke="#000" stroke-width="3"/>
<rect x="285.71" y="755.88" width="13.00" height="13.00" fill="#fff" stroke="#000" stroke-width="3"/>
<rect x="326.58" y="750.00" width="13.00" height="13.00" fill="#fff" stroke="#000" stroke-width="3"/>
<rect x="367.45" y="747.65" width="13.00" height="13.00" fill="#fff" stroke="#000" stroke-width="3"/>
<rect x="408.32" y="747.65" width="13.00" height="13.00" fill="#fff" stroke="#000" stroke-width="3"/>
<rect x="449.19" y="751.18" width="13.00" height="13.00" fill="#fff" stroke="#000" stroke-width="3"/>
<rect x="490.06" y="757.06" width="13.00" height="13.00" fill="#fff" stroke="#000" stroke-width="3"/>
<rect x="653.54" y="757.06" width="13.00" height="13.00" fill="#fff" stroke="#000" stroke-width="3"/>
<text transform="translate(181.11,632.42) scale(0.9637,1)" font-family='"DejaVu Sans", "Liberation Sans", sans-serif' font-weight="bold" font-size="22.58" fill="#000" stroke="#000" stroke-width="0.7" stroke-linejoin="round">*</text>
<text transform="translate(181.11,650.02) scale(0.9637,1)" font-family='"DejaVu Sans", "Liberation Sans", sans-serif' font-weight="bold" font-size="22.58" fill="#000" stroke="#000" stroke-width="0.7" stroke-linejoin="round">*</text>
<text transform="translate(181.11,666.52) scale(0.9637,1)" font-family='"DejaVu Sans", "Liberation Sans", sans-serif' font-weight="bold" font-size="22.58" fill="#000" stroke="#000" stroke-width="0.7" stroke-linejoin="round">*</text>
<text transform="translate(202.21,638.32) scale(0.9637,1)" font-family='"DejaVu Sans", "Liberation Sans", sans-serif' font-weight="bold" font-size="22.58" fill="#000" stroke="#000" stroke-width="0.7" stroke-linejoin="round">*</text>
<text transform="translate(202.21,654.72) scale(0.9637,1)" font-family='"DejaVu Sans", "Liberation Sans", sans-serif' font-weight="bold" font-size="22.58" fill="#000" stroke="#000" stroke-width="0.7" stroke-linejoin="round">*</text>
<text transform="translate(202.21,672.32) scale(0.9637,1)" font-family='"DejaVu Sans", "Liberation Sans", sans-serif' font-weight="bold" font-size="22.58" fill="#000" stroke="#000" stroke-width="0.7" stroke-linejoin="round">*</text>
<text transform="translate(221.01,595.32) scale(0.9637,1)" font-family='"DejaVu Sans", "Liberation Sans", sans-serif' font-weight="bold" font-size="22.58" fill="#000" stroke="#000" stroke-width="0.7" stroke-linejoin="round">*</text>
<text transform="translate(221.01,613.62) scale(0.9637,1)" font-family='"DejaVu Sans", "Liberation Sans", sans-serif' font-weight="bold" font-size="22.58" fill="#000" stroke="#000" stroke-width="0.7" stroke-linejoin="round">*</text>
<text transform="translate(221.01,631.22) scale(0.9637,1)" font-family='"DejaVu Sans", "Liberation Sans", sans-serif' font-weight="bold" font-size="22.58" fill="#000" stroke="#000" stroke-width="0.7" stroke-linejoin="round">*</text>
<text transform="translate(244.51,590.12) scale(0.9637,1)" font-family='"DejaVu Sans", "Liberation Sans", sans-serif' font-weight="bold" font-size="22.58" fill="#000" stroke="#000" stroke-width="0.7" stroke-linejoin="round">*</text>
<text transform="translate(244.51,607.72) scale(0.9637,1)" font-family='"DejaVu Sans", "Liberation Sans", sans-serif' font-weight="bold" font-size="22.58" fill="#000" stroke="#000" stroke-width="0.7" stroke-linejoin="round">*</text>
<text transform="translate(244.51,625.32) scale(0.9637,1)" font-family='"DejaVu Sans", "Liberation Sans", sans-serif' font-weight="bold" font-size="22.58" fill="#000" stroke="#000" stroke-width="0.7" stroke-linejoin="round">*</text>
<text transform="translate(286.81,567.82) scale(0.9637,1)" font-family='"DejaVu Sans", "Liberation Sans", sans-serif' font-weight="bold" font-size="22.58" fill="#000" stroke="#000" stroke-width="0.7" stroke-linejoin="round">*</text>
<text transform="translate(286.81,585.42) scale(0.9637,1)" font-family='"DejaVu Sans", "Liberation Sans", sans-serif' font-weight="bold" font-size="22.58" fill="#000" stroke="#000" stroke-width="0.7" stroke-linejoin="round">*</text>
<text transform="translate(286.81,603.02) scale(0.9637,1)" font-family='"DejaVu Sans", "Liberation Sans", sans-serif' font-weight="bold" font-size="22.58" fill="#000" stroke="#000" stroke-width="0.7" stroke-linejoin="round">*</text>
<text transform="translate(327.91,565.42) scale(0.9637,1)" font-family='"DejaVu Sans", "Liberation Sans", sans-serif' font-weight="bold" font-size="22.58" fill="#000" stroke="#000" stroke-width="0.7" stroke-linejoin="round">*</text>
<text transform="translate(327.91,583.12) scale(0.9637,1)" font-family='"DejaVu Sans", "Liberation Sans", sans-serif' font-weight="bold" font-size="22.58" fill="#000" stroke="#000" stroke-width="0.7" stroke-linejoin="round">*</text>
<text transform="translate(327.91,600.72) scale(0.9637,1)" font-family='"DejaVu Sans", "Liberation Sans", sans-serif' font-weight="bold" font-size="22.58" fill="#000" stroke="#000" stroke-width="0.7" stroke-linejoin="round">*</text>
<text transform="translate(368.41,569.92) scale(0.9637,1)" font-family='"DejaVu Sans", "Liberation Sans", sans-serif' font-weight="bold" font-size="22.58" fill="#000" stroke="#000" stroke-width="0.7" stroke-linejoin="round">*</text>
<text transform="translate(368.41,588.02) scale(0.9637,1)" font-family='"DejaVu Sans", "Liberation Sans", sans-serif' font-weight="bold" font-size="22.58" fill="#000" stroke="#000" stroke-width="0.7" stroke-linejoin="round">*</text>
<text transform="translate(368.41,604.52) scale(0.9637,1)" font-family='"DejaVu Sans", "Liberation Sans", sans-serif' font-weight="bold" font-size="22.58" fill="#000" stroke="#000" stroke-width="0.7" stroke-linejoin="round">*</text>
<text transform="translate(411.51,608.32) scale(0.9637,1)" font-family='"DejaVu Sans", "Liberation Sans", sans-serif' font-weight="bold" font-size="22.58" fill="#000" stroke="#000" stroke-width="0.7" stroke-linejoin="round">*</text>
<text transform="translate(411.51,625.12) scale(0.9637,1)" font-family='"DejaVu Sans", "Liberation Sans", sans-serif' font-weight="bold" font-size="22.58" fill="#000" stroke="#000" stroke-width="0.7" stroke-linejoin="round">*</text>
<text transform="translate(411.51,642.42) scale(0.9637,1)" font-family='"DejaVu Sans", "Liberation Sans", sans-serif' font-weight="bold" font-size="22.58" fill="#000" stroke="#000" stroke-width="0.7" stroke-linejoin="round">*</text>
<text transform="translate(452.61,612.02) scale(0.9637,1)" font-family='"DejaVu Sans", "Liberation Sans", sans-serif' font-weight="bold" font-size="22.58" fill="#000" stroke="#000" stroke-width="0.7" stroke-linejoin="round">*</text>
<text transform="translate(452.61,629.32) scale(0.9637,1)" font-family='"DejaVu Sans", "Liberation Sans", sans-serif' font-weight="bold" font-size="22.58" fill="#000" stroke="#000" stroke-width="0.7" stroke-linejoin="round">*</text>
<text transform="translate(452.61,646.12) scale(0.9637,1)" font-family='"DejaVu Sans", "Liberation Sans", sans-serif' font-weight="bold" font-size="22.58" fill="#000" stroke="#000" stroke-width="0.7" stroke-linejoin="round">*</text>
<text transform="translate(490.71,615.72) scale(0.9637,1)" font-family='"DejaVu Sans", "Liberation Sans", sans-serif' font-weight="bold" font-size="22.58" fill="#000" stroke="#000" stroke-width="0.7" stroke-linejoin="round">*</text>
<text transform="translate(490.71,633.02) scale(0.9637,1)" font-family='"DejaVu Sans", "Liberation Sans", sans-serif' font-weight="bold" font-size="22.58" fill="#000" stroke="#000" stroke-width="0.7" stroke-linejoin="round">*</text>
<text transform="translate(490.71,650.42) scale(0.9637,1)" font-family='"DejaVu Sans", "Liberation Sans", sans-serif' font-weight="bold" font-size="22.58" fill="#000" stroke="#000" stroke-width="0.7" stroke-linejoin="round">*</text>
<text transform="translate(655.61,628.12) scale(0.9637,1)" font-family='"DejaVu Sans", "Liberation Sans", sans-serif' font-weight="bold" font-size="22.58" fill="#000" stroke="#000" stroke-width="0.7" stroke-linejoin="round">*</text>
<text transform="translate(655.61,645.42) scale(0.9637,1)" font-family='"DejaVu Sans", "Liberation Sans", sans-serif' font-weight="bold" font-size="22.58" fill="#000" stroke="#000" stroke-width="0.7" stroke-linejoin="round">*</text>
<text transform="translate(655.61,662.72) scale(0.9637,1)" font-family='"DejaVu Sans", "Liberation Sans", sans-serif' font-weight="bold" font-size="22.58" fill="#000" stroke="#000" stroke-width="0.7" stroke-linejoin="round">*</text>
<line x1="451.50" y1="555.80" x2="482.00" y2="555.80" stroke="#000" stroke-width="2.8" stroke-linecap="butt"/>
<rect x="459.15" y="548.75" width="14.50" height="14.50" fill="#000" stroke="#000" stroke-width="1.5"/>
<text transform="translate(482.08,565.87) scale(1.1658,1)" font-family='"DejaVu Sans", "Liberation Sans", sans-serif' font-weight="bold" font-size="26.15" fill="#000">Ipsi</text>
<line x1="566.00" y1="555.80" x2="596.50" y2="555.80" stroke="#000" stroke-width="2.8" stroke-linecap="butt"/>
<rect x="573.95" y="548.75" width="14.50" height="14.50" fill="#fff" stroke="#000" stroke-width="3"/>
<text transform="translate(599.15,565.30) scale(1.0103,1)" font-family='"DejaVu Sans", "Liberation Sans", sans-serif' font-weight="bold" font-size="26.67" fill="#000">Contra</text>
<line x1="942.80" y1="508.00" x2="942.80" y2="829.00" stroke="#000" stroke-width="5" stroke-linecap="butt"/>
<line x1="933.00" y1="826.90" x2="1525.00" y2="826.90" stroke="#000" stroke-width="5" stroke-linecap="butt"/>
<line x1="933.00" y1="826.90" x2="942.80" y2="826.90" stroke="#000" stroke-width="5" stroke-linecap="butt"/>
<line x1="933.00" y1="773.80" x2="942.80" y2="773.80" stroke="#000" stroke-width="5" stroke-linecap="butt"/>
<line x1="933.00" y1="720.70" x2="942.80" y2="720.70" stroke="#000" stroke-width="5" stroke-linecap="butt"/>
<line x1="933.00" y1="667.60" x2="942.80" y2="667.60" stroke="#000" stroke-width="5" stroke-linecap="butt"/>
<line x1="933.00" y1="614.50" x2="942.80" y2="614.50" stroke="#000" stroke-width="5" stroke-linecap="butt"/>
<line x1="933.00" y1="561.40" x2="942.80" y2="561.40" stroke="#000" stroke-width="5" stroke-linecap="butt"/>
<line x1="933.00" y1="508.30" x2="942.80" y2="508.30" stroke="#000" stroke-width="5" stroke-linecap="butt"/>
<line x1="943.00" y1="826.90" x2="943.00" y2="836.50" stroke="#000" stroke-width="5" stroke-linecap="butt"/>
<line x1="987.60" y1="826.90" x2="987.60" y2="836.50" stroke="#000" stroke-width="5" stroke-linecap="butt"/>
<line x1="1032.20" y1="826.90" x2="1032.20" y2="836.50" stroke="#000" stroke-width="5" stroke-linecap="butt"/>
<line x1="1076.80" y1="826.90" x2="1076.80" y2="836.50" stroke="#000" stroke-width="5" stroke-linecap="butt"/>
<line x1="1121.40" y1="826.90" x2="1121.40" y2="836.50" stroke="#000" stroke-width="5" stroke-linecap="butt"/>
<line x1="1166.00" y1="826.90" x2="1166.00" y2="836.50" stroke="#000" stroke-width="5" stroke-linecap="butt"/>
<line x1="1210.60" y1="826.90" x2="1210.60" y2="836.50" stroke="#000" stroke-width="5" stroke-linecap="butt"/>
<line x1="1255.20" y1="826.90" x2="1255.20" y2="836.50" stroke="#000" stroke-width="5" stroke-linecap="butt"/>
<line x1="1299.80" y1="826.90" x2="1299.80" y2="836.50" stroke="#000" stroke-width="5" stroke-linecap="butt"/>
<line x1="1344.40" y1="826.90" x2="1344.40" y2="836.50" stroke="#000" stroke-width="5" stroke-linecap="butt"/>
<line x1="1389.00" y1="826.90" x2="1389.00" y2="836.50" stroke="#000" stroke-width="5" stroke-linecap="butt"/>
<line x1="1433.60" y1="826.90" x2="1433.60" y2="836.50" stroke="#000" stroke-width="5" stroke-linecap="butt"/>
<line x1="1478.20" y1="826.90" x2="1478.20" y2="836.50" stroke="#000" stroke-width="5" stroke-linecap="butt"/>
<line x1="1522.80" y1="826.90" x2="1522.80" y2="836.50" stroke="#000" stroke-width="5" stroke-linecap="butt"/>
<text transform="translate(896.28,519.46) scale(0.9954,1)" font-family='"DejaVu Sans", "Liberation Sans", sans-serif' font-weight="bold" font-size="29.27" fill="#000">6</text>
<text transform="translate(895.33,837.55) scale(0.9954,1)" font-family='"DejaVu Sans", "Liberation Sans", sans-serif' font-weight="bold" font-size="29.27" fill="#000">0</text>
<text transform="translate(895.92,784.48) scale(0.9954,1)" font-family='"DejaVu Sans", "Liberation Sans", sans-serif' font-weight="bold" font-size="29.27" fill="#000">1</text>
<text transform="translate(896.43,731.57) scale(0.9954,1)" font-family='"DejaVu Sans", "Liberation Sans", sans-serif' font-weight="bold" font-size="29.27" fill="#000">2</text>
<text transform="translate(896.21,678.25) scale(0.9954,1)" font-family='"DejaVu Sans", "Liberation Sans", sans-serif' font-weight="bold" font-size="29.27" fill="#000">3</text>
<text transform="translate(895.26,625.18) scale(0.9954,1)" font-family='"DejaVu Sans", "Liberation Sans", sans-serif' font-weight="bold" font-size="29.27" fill="#000">4</text>
<text transform="translate(895.99,571.86) scale(0.9954,1)" font-family='"DejaVu Sans", "Liberation Sans", sans-serif' font-weight="bold" font-size="29.27" fill="#000">5</text>
<text transform="translate(933.05,878.53) scale(0.9133,1)" font-family='"DejaVu Sans", "Liberation Sans", sans-serif' font-weight="bold" font-size="31.02" fill="#000">0</text>
<text transform="translate(977.12,878.57) scale(0.9133,1)" font-family='"DejaVu Sans", "Liberation Sans", sans-serif' font-weight="bold" font-size="31.02" fill="#000">1</text>
<text transform="translate(1022.43,878.77) scale(0.9133,1)" font-family='"DejaVu Sans", "Liberation Sans", sans-serif' font-weight="bold" font-size="31.02" fill="#000">2</text>
<text transform="translate(1067.10,878.53) scale(0.9133,1)" font-family='"DejaVu Sans", "Liberation Sans", sans-serif' font-weight="bold" font-size="31.02" fill="#000">3</text>
<text transform="translate(1111.55,878.57) scale(0.9133,1)" font-family='"DejaVu Sans", "Liberation Sans", sans-serif' font-weight="bold" font-size="31.02" fill="#000">4</text>
<text transform="translate(1156.05,878.34) scale(0.9133,1)" font-family='"DejaVu Sans", "Liberation Sans", sans-serif' font-weight="bold" font-size="31.02" fill="#000">5</text>
<text transform="translate(1200.61,878.50) scale(0.9133,1)" font-family='"DejaVu Sans", "Liberation Sans", sans-serif' font-weight="bold" font-size="31.02" fill="#000">6</text>
<text transform="translate(1245.50,878.57) scale(0.9133,1)" font-family='"DejaVu Sans", "Liberation Sans", sans-serif' font-weight="bold" font-size="31.02" fill="#000">7</text>
<text transform="translate(1289.95,878.53) scale(0.9133,1)" font-family='"DejaVu Sans", "Liberation Sans", sans-serif' font-weight="bold" font-size="31.02" fill="#000">8</text>
<text transform="translate(1334.70,878.50) scale(0.9133,1)" font-family='"DejaVu Sans", "Liberation Sans", sans-serif' font-weight="bold" font-size="31.02" fill="#000">9</text>
<text transform="translate(1368.39,878.53) scale(0.9133,1)" font-family='"DejaVu Sans", "Liberation Sans", sans-serif' font-weight="bold" font-size="31.02" fill="#000">10</text>
<text transform="translate(1413.27,878.57) scale(0.9133,1)" font-family='"DejaVu Sans", "Liberation Sans", sans-serif' font-weight="bold" font-size="31.02" fill="#000">11</text>
<text transform="translate(1458.12,878.77) scale(0.9133,1)" font-family='"DejaVu Sans", "Liberation Sans", sans-serif' font-weight="bold" font-size="31.02" fill="#000">12</text>
<text transform="translate(1502.61,878.53) scale(0.9133,1)" font-family='"DejaVu Sans", "Liberation Sans", sans-serif' font-weight="bold" font-size="31.02" fill="#000">13</text>
<polygon points="943.00,888.50 956.50,903.50 949.90,903.50 949.90,932.50 936.10,932.50 936.10,903.50 929.50,903.50" fill="#000"/>
<polygon points="987.60,888.50 1001.10,903.50 994.50,903.50 994.50,932.50 980.70,932.50 980.70,903.50 974.10,903.50" fill="#000"/>
<polygon points="1032.20,888.50 1045.70,903.50 1039.10,903.50 1039.10,932.50 1025.30,932.50 1025.30,903.50 1018.70,903.50" fill="#000"/>
<polygon points="1076.80,888.50 1090.30,903.50 1083.70,903.50 1083.70,932.50 1069.90,932.50 1069.90,903.50 1063.30,903.50" fill="#000"/>
<text transform="translate(1099.96,979.40) scale(0.9254,1)" font-family='"DejaVu Sans", "Liberation Sans", sans-serif' font-weight="bold" font-size="30.79" fill="#000">Time (weeks)</text>
<text transform="translate(866.60,729.52) rotate(-90) scale(1.1703,1)" font-family='"DejaVu Sans", "Liberation Sans", sans-serif' font-weight="bold" font-size="26.97" fill="#000">PWT (g)</text>
<line x1="1121.40" y1="641.58" x2="1121.40" y2="623.00" stroke="#000" stroke-width="2.5" stroke-linecap="butt"/>
<line x1="1118.40" y1="623.00" x2="1124.40" y2="623.00" stroke="#000" stroke-width="2.5" stroke-linecap="butt"/>
<line x1="1478.20" y1="589.01" x2="1478.20" y2="560.34" stroke="#000" stroke-width="2.5" stroke-linecap="butt"/>
<line x1="1475.20" y1="560.34" x2="1481.20" y2="560.34" stroke="#000" stroke-width="2.5" stroke-linecap="butt"/>
<line x1="1121.40" y1="655.39" x2="1121.40" y2="673.97" stroke="#000" stroke-width="2.5" stroke-linecap="butt"/>
<line x1="1118.40" y1="673.97" x2="1124.40" y2="673.97" stroke="#000" stroke-width="2.5" stroke-linecap="butt"/>
<line x1="1299.80" y1="650.08" x2="1299.80" y2="685.65" stroke="#000" stroke-width="2.5" stroke-linecap="butt"/>
<line x1="1296.80" y1="685.65" x2="1302.80" y2="685.65" stroke="#000" stroke-width="2.5" stroke-linecap="butt"/>
<line x1="1478.20" y1="614.50" x2="1478.20" y2="658.04" stroke="#000" stroke-width="2.5" stroke-linecap="butt"/>
<line x1="1475.20" y1="658.04" x2="1481.20" y2="658.04" stroke="#000" stroke-width="2.5" stroke-linecap="butt"/>
<line x1="1299.80" y1="650.08" x2="1299.80" y2="619.81" stroke="#000" stroke-width="2.5" stroke-linecap="butt"/>
<line x1="1296.80" y1="619.81" x2="1302.80" y2="619.81" stroke="#000" stroke-width="2.5" stroke-linecap="butt"/>
<line x1="1478.20" y1="589.01" x2="1478.20" y2="569.37" stroke="#000" stroke-width="2.5" stroke-linecap="butt"/>
<line x1="1475.20" y1="569.37" x2="1481.20" y2="569.37" stroke="#000" stroke-width="2.5" stroke-linecap="butt"/>
<line x1="962.18" y1="792.38" x2="962.18" y2="810.97" stroke="#000" stroke-width="2.5" stroke-linecap="butt"/>
<line x1="959.18" y1="810.97" x2="965.18" y2="810.97" stroke="#000" stroke-width="2.5" stroke-linecap="butt"/>
<line x1="1032.20" y1="818.40" x2="1032.20" y2="810.97" stroke="#000" stroke-width="2.5" stroke-linecap="butt"/>
<line x1="1029.20" y1="810.97" x2="1035.20" y2="810.97" stroke="#000" stroke-width="2.5" stroke-linecap="butt"/>
<polyline points="943.00,614.50 962.18,817.34 987.60,818.40 1006.78,822.65 1032.20,818.40 1076.80,823.71 1121.40,825.31 1166.00,824.25 1210.60,821.59 1255.20,818.40 1299.80,818.93 1478.20,819.47" fill="none" stroke="#000" stroke-width="2.8" stroke-linejoin="round"/>
<polyline points="943.00,614.50 962.18,792.38 987.60,798.76 1006.78,803.54 1032.20,804.07 1076.80,809.91 1121.40,814.16 1166.00,809.38 1210.60,807.78 1255.20,802.47 1299.80,804.07 1478.20,809.38" fill="none" stroke="#000" stroke-width="2.8" stroke-linejoin="round"/>
<polyline points="943.00,614.50 1121.40,641.58 1299.80,614.50 1478.20,589.01" fill="none" stroke="#000" stroke-width="2.8" stroke-linejoin="round"/>
<polyline points="943.00,614.50 1121.40,655.39 1299.80,650.08 1478.20,614.50" fill="none" stroke="#000" stroke-width="2.8" stroke-linejoin="round"/>
<rect x="955.68" y="810.84" width="13.00" height="13.00" fill="#000" stroke="#000" stroke-width="1.5"/>
<rect x="981.10" y="811.90" width="13.00" height="13.00" fill="#000" stroke="#000" stroke-width="1.5"/>
<rect x="1000.28" y="816.15" width="13.00" height="13.00" fill="#000" stroke="#000" stroke-width="1.5"/>
<rect x="1025.70" y="811.90" width="13.00" height="13.00" fill="#000" stroke="#000" stroke-width="1.5"/>
<rect x="1070.30" y="817.21" width="13.00" height="13.00" fill="#000" stroke="#000" stroke-width="1.5"/>
<rect x="1114.90" y="818.81" width="13.00" height="13.00" fill="#000" stroke="#000" stroke-width="1.5"/>
<rect x="1159.50" y="817.75" width="13.00" height="13.00" fill="#000" stroke="#000" stroke-width="1.5"/>
<rect x="1204.10" y="815.09" width="13.00" height="13.00" fill="#000" stroke="#000" stroke-width="1.5"/>
<rect x="1248.70" y="811.90" width="13.00" height="13.00" fill="#000" stroke="#000" stroke-width="1.5"/>
<rect x="1293.30" y="812.43" width="13.00" height="13.00" fill="#000" stroke="#000" stroke-width="1.5"/>
<rect x="1471.70" y="812.97" width="13.00" height="13.00" fill="#000" stroke="#000" stroke-width="1.5"/>
<rect x="955.93" y="786.13" width="12.50" height="12.50" fill="#fff" stroke="#000" stroke-width="3"/>
<rect x="981.35" y="792.51" width="12.50" height="12.50" fill="#fff" stroke="#000" stroke-width="3"/>
<rect x="1000.53" y="797.29" width="12.50" height="12.50" fill="#fff" stroke="#000" stroke-width="3"/>
<rect x="1025.95" y="797.82" width="12.50" height="12.50" fill="#fff" stroke="#000" stroke-width="3"/>
<rect x="1070.55" y="803.66" width="12.50" height="12.50" fill="#fff" stroke="#000" stroke-width="3"/>
<rect x="1115.15" y="807.91" width="12.50" height="12.50" fill="#fff" stroke="#000" stroke-width="3"/>
<rect x="1159.75" y="803.13" width="12.50" height="12.50" fill="#fff" stroke="#000" stroke-width="3"/>
<rect x="1204.35" y="801.53" width="12.50" height="12.50" fill="#fff" stroke="#000" stroke-width="3"/>
<rect x="1248.95" y="796.22" width="12.50" height="12.50" fill="#fff" stroke="#000" stroke-width="3"/>
<rect x="1293.55" y="797.82" width="12.50" height="12.50" fill="#fff" stroke="#000" stroke-width="3"/>
<rect x="1471.95" y="803.13" width="12.50" height="12.50" fill="#fff" stroke="#000" stroke-width="3"/>
<circle cx="943.00" cy="614.50" r="7.60" fill="#000"/>
<circle cx="1121.40" cy="641.58" r="7.60" fill="#000"/>
<circle cx="1299.80" cy="614.50" r="7.60" fill="#000"/>
<circle cx="1478.20" cy="589.01" r="7.60" fill="#000"/>
<circle cx="943.00" cy="614.50" r="7.30" fill="#fff" stroke="#000" stroke-width="3"/>
<circle cx="1121.40" cy="655.39" r="7.30" fill="#fff" stroke="#000" stroke-width="3"/>
<circle cx="1299.80" cy="650.08" r="7.30" fill="#fff" stroke="#000" stroke-width="3"/>
<circle cx="1478.20" cy="614.50" r="7.30" fill="#fff" stroke="#000" stroke-width="3"/>
<text transform="translate(963.43,732.61) scale(0.9637,1)" font-family='"DejaVu Sans", "Liberation Sans", sans-serif' font-weight="bold" font-size="26.88" fill="#000" stroke="#000" stroke-width="0.7" stroke-linejoin="round">*</text>
<text transform="translate(963.43,750.31) scale(0.9637,1)" font-family='"DejaVu Sans", "Liberation Sans", sans-serif' font-weight="bold" font-size="26.88" fill="#000" stroke="#000" stroke-width="0.7" stroke-linejoin="round">*</text>
<text transform="translate(963.43,767.11) scale(0.9637,1)" font-family='"DejaVu Sans", "Liberation Sans", sans-serif' font-weight="bold" font-size="26.88" fill="#000" stroke="#000" stroke-width="0.7" stroke-linejoin="round">*</text>
<text transform="translate(982.83,747.71) scale(0.9637,1)" font-family='"DejaVu Sans", "Liberation Sans", sans-serif' font-weight="bold" font-size="26.88" fill="#000" stroke="#000" stroke-width="0.7" stroke-linejoin="round">*</text>
<text transform="translate(982.83,764.91) scale(0.9637,1)" font-family='"DejaVu Sans", "Liberation Sans", sans-serif' font-weight="bold" font-size="26.88" fill="#000" stroke="#000" stroke-width="0.7" stroke-linejoin="round">*</text>
<text transform="translate(982.83,782.21) scale(0.9637,1)" font-family='"DejaVu Sans", "Liberation Sans", sans-serif' font-weight="bold" font-size="26.88" fill="#000" stroke="#000" stroke-width="0.7" stroke-linejoin="round">*</text>
<text transform="translate(1001.23,748.71) scale(0.9637,1)" font-family='"DejaVu Sans", "Liberation Sans", sans-serif' font-weight="bold" font-size="26.88" fill="#000" stroke="#000" stroke-width="0.7" stroke-linejoin="round">*</text>
<text transform="translate(1001.23,766.71) scale(0.9637,1)" font-family='"DejaVu Sans", "Liberation Sans", sans-serif' font-weight="bold" font-size="26.88" fill="#000" stroke="#000" stroke-width="0.7" stroke-linejoin="round">*</text>
<text transform="translate(1001.23,783.91) scale(0.9637,1)" font-family='"DejaVu Sans", "Liberation Sans", sans-serif' font-weight="bold" font-size="26.88" fill="#000" stroke="#000" stroke-width="0.7" stroke-linejoin="round">*</text>
<text transform="translate(1027.53,756.31) scale(0.9637,1)" font-family='"DejaVu Sans", "Liberation Sans", sans-serif' font-weight="bold" font-size="26.88" fill="#000" stroke="#000" stroke-width="0.7" stroke-linejoin="round">*</text>
<text transform="translate(1027.53,774.71) scale(0.9637,1)" font-family='"DejaVu Sans", "Liberation Sans", sans-serif' font-weight="bold" font-size="26.88" fill="#000" stroke="#000" stroke-width="0.7" stroke-linejoin="round">*</text>
<text transform="translate(1027.53,791.91) scale(0.9637,1)" font-family='"DejaVu Sans", "Liberation Sans", sans-serif' font-weight="bold" font-size="26.88" fill="#000" stroke="#000" stroke-width="0.7" stroke-linejoin="round">*</text>
<text transform="translate(1069.23,763.91) scale(0.9637,1)" font-family='"DejaVu Sans", "Liberation Sans", sans-serif' font-weight="bold" font-size="26.88" fill="#000" stroke="#000" stroke-width="0.7" stroke-linejoin="round">*</text>
<text transform="translate(1069.23,781.11) scale(0.9637,1)" font-family='"DejaVu Sans", "Liberation Sans", sans-serif' font-weight="bold" font-size="26.88" fill="#000" stroke="#000" stroke-width="0.7" stroke-linejoin="round">*</text>
<text transform="translate(1069.23,798.41) scale(0.9637,1)" font-family='"DejaVu Sans", "Liberation Sans", sans-serif' font-weight="bold" font-size="26.88" fill="#000" stroke="#000" stroke-width="0.7" stroke-linejoin="round">*</text>
<text transform="translate(1105.93,767.11) scale(0.9637,1)" font-family='"DejaVu Sans", "Liberation Sans", sans-serif' font-weight="bold" font-size="26.88" fill="#000" stroke="#000" stroke-width="0.7" stroke-linejoin="round">*</text>
<text transform="translate(1105.93,784.41) scale(0.9637,1)" font-family='"DejaVu Sans", "Liberation Sans", sans-serif' font-weight="bold" font-size="26.88" fill="#000" stroke="#000" stroke-width="0.7" stroke-linejoin="round">*</text>
<text transform="translate(1105.93,801.71) scale(0.9637,1)" font-family='"DejaVu Sans", "Liberation Sans", sans-serif' font-weight="bold" font-size="26.88" fill="#000" stroke="#000" stroke-width="0.7" stroke-linejoin="round">*</text>
<text transform="translate(1158.73,761.71) scale(0.9637,1)" font-family='"DejaVu Sans", "Liberation Sans", sans-serif' font-weight="bold" font-size="26.88" fill="#000" stroke="#000" stroke-width="0.7" stroke-linejoin="round">*</text>
<text transform="translate(1158.73,779.01) scale(0.9637,1)" font-family='"DejaVu Sans", "Liberation Sans", sans-serif' font-weight="bold" font-size="26.88" fill="#000" stroke="#000" stroke-width="0.7" stroke-linejoin="round">*</text>
<text transform="translate(1158.73,796.91) scale(0.9637,1)" font-family='"DejaVu Sans", "Liberation Sans", sans-serif' font-weight="bold" font-size="26.88" fill="#000" stroke="#000" stroke-width="0.7" stroke-linejoin="round">*</text>
<text transform="translate(1203.03,761.71) scale(0.9637,1)" font-family='"DejaVu Sans", "Liberation Sans", sans-serif' font-weight="bold" font-size="26.88" fill="#000" stroke="#000" stroke-width="0.7" stroke-linejoin="round">*</text>
<text transform="translate(1203.03,779.71) scale(0.9637,1)" font-family='"DejaVu Sans", "Liberation Sans", sans-serif' font-weight="bold" font-size="26.88" fill="#000" stroke="#000" stroke-width="0.7" stroke-linejoin="round">*</text>
<text transform="translate(1203.03,796.91) scale(0.9637,1)" font-family='"DejaVu Sans", "Liberation Sans", sans-serif' font-weight="bold" font-size="26.88" fill="#000" stroke="#000" stroke-width="0.7" stroke-linejoin="round">*</text>
<text transform="translate(1248.13,755.01) scale(0.9637,1)" font-family='"DejaVu Sans", "Liberation Sans", sans-serif' font-weight="bold" font-size="26.88" fill="#000" stroke="#000" stroke-width="0.7" stroke-linejoin="round">*</text>
<text transform="translate(1248.13,772.61) scale(0.9637,1)" font-family='"DejaVu Sans", "Liberation Sans", sans-serif' font-weight="bold" font-size="26.88" fill="#000" stroke="#000" stroke-width="0.7" stroke-linejoin="round">*</text>
<text transform="translate(1248.13,790.81) scale(0.9637,1)" font-family='"DejaVu Sans", "Liberation Sans", sans-serif' font-weight="bold" font-size="26.88" fill="#000" stroke="#000" stroke-width="0.7" stroke-linejoin="round">*</text>
<text transform="translate(1293.13,758.81) scale(0.9637,1)" font-family='"DejaVu Sans", "Liberation Sans", sans-serif' font-weight="bold" font-size="26.88" fill="#000" stroke="#000" stroke-width="0.7" stroke-linejoin="round">*</text>
<text transform="translate(1293.13,776.01) scale(0.9637,1)" font-family='"DejaVu Sans", "Liberation Sans", sans-serif' font-weight="bold" font-size="26.88" fill="#000" stroke="#000" stroke-width="0.7" stroke-linejoin="round">*</text>
<text transform="translate(1293.13,794.31) scale(0.9637,1)" font-family='"DejaVu Sans", "Liberation Sans", sans-serif' font-weight="bold" font-size="26.88" fill="#000" stroke="#000" stroke-width="0.7" stroke-linejoin="round">*</text>
<text transform="translate(1464.13,762.31) scale(0.9637,1)" font-family='"DejaVu Sans", "Liberation Sans", sans-serif' font-weight="bold" font-size="26.88" fill="#000" stroke="#000" stroke-width="0.7" stroke-linejoin="round">*</text>
<text transform="translate(1464.13,780.11) scale(0.9637,1)" font-family='"DejaVu Sans", "Liberation Sans", sans-serif' font-weight="bold" font-size="26.88" fill="#000" stroke="#000" stroke-width="0.7" stroke-linejoin="round">*</text>
<text transform="translate(1464.13,797.71) scale(0.9637,1)" font-family='"DejaVu Sans", "Liberation Sans", sans-serif' font-weight="bold" font-size="26.88" fill="#000" stroke="#000" stroke-width="0.7" stroke-linejoin="round">*</text>
<text transform="translate(1120.35,761.90) scale(0.7979,1)" font-family='"DejaVu Sans", "Liberation Sans", sans-serif' font-weight="bold" font-size="22.30" fill="#000" stroke="#000" stroke-width="0.5">#</text>
<text transform="translate(1120.35,779.20) scale(0.7979,1)" font-family='"DejaVu Sans", "Liberation Sans", sans-serif' font-weight="bold" font-size="22.30" fill="#000" stroke="#000" stroke-width="0.5">#</text>
<text transform="translate(1120.35,796.50) scale(0.7979,1)" font-family='"DejaVu Sans", "Liberation Sans", sans-serif' font-weight="bold" font-size="22.30" fill="#000" stroke="#000" stroke-width="0.5">#</text>
<text transform="translate(1309.15,753.60) scale(0.7979,1)" font-family='"DejaVu Sans", "Liberation Sans", sans-serif' font-weight="bold" font-size="22.30" fill="#000" stroke="#000" stroke-width="0.5">#</text>
<text transform="translate(1309.15,770.80) scale(0.7979,1)" font-family='"DejaVu Sans", "Liberation Sans", sans-serif' font-weight="bold" font-size="22.30" fill="#000" stroke="#000" stroke-width="0.5">#</text>
<text transform="translate(1309.15,789.10) scale(0.7979,1)" font-family='"DejaVu Sans", "Liberation Sans", sans-serif' font-weight="bold" font-size="22.30" fill="#000" stroke="#000" stroke-width="0.5">#</text>
<text transform="translate(1483.95,757.10) scale(0.7979,1)" font-family='"DejaVu Sans", "Liberation Sans", sans-serif' font-weight="bold" font-size="22.30" fill="#000" stroke="#000" stroke-width="0.5">#</text>
<text transform="translate(1483.95,774.90) scale(0.7979,1)" font-family='"DejaVu Sans", "Liberation Sans", sans-serif' font-weight="bold" font-size="22.30" fill="#000" stroke="#000" stroke-width="0.5">#</text>
<text transform="translate(1483.95,792.50) scale(0.7979,1)" font-family='"DejaVu Sans", "Liberation Sans", sans-serif' font-weight="bold" font-size="22.30" fill="#000" stroke="#000" stroke-width="0.5">#</text>
<line x1="993.50" y1="506.40" x2="1028.50" y2="506.40" stroke="#000" stroke-width="3" stroke-linecap="butt"/>
<rect x="1004.95" y="499.85" width="13.50" height="13.50" fill="#000" stroke="#000" stroke-width="1.5"/>
<text transform="translate(1032.60,513.87) scale(0.9437,1)" font-family='"DejaVu Sans", "Liberation Sans", sans-serif' font-weight="bold" font-size="27.60" fill="#000">CFA-Ipsi</text>
<line x1="993.50" y1="537.50" x2="1028.50" y2="537.50" stroke="#000" stroke-width="3" stroke-linecap="butt"/>
<circle cx="1011.70" cy="537.50" r="7.60" fill="#000"/>
<text transform="translate(1032.64,544.89) scale(0.9478,1)" font-family='"DejaVu Sans", "Liberation Sans", sans-serif' font-weight="bold" font-size="26.56" fill="#000">Control-Ipsi</text>
<line x1="1280.50" y1="506.00" x2="1315.00" y2="506.00" stroke="#000" stroke-width="3" stroke-linecap="butt"/>
<rect x="1292.00" y="499.20" width="13.00" height="13.00" fill="#fff" stroke="#000" stroke-width="3"/>
<text transform="translate(1319.37,514.48) scale(0.8843,1)" font-family='"DejaVu Sans", "Liberation Sans", sans-serif' font-weight="bold" font-size="27.85" fill="#000">CFA-Contra</text>
<line x1="1280.50" y1="538.70" x2="1315.00" y2="538.70" stroke="#000" stroke-width="3" stroke-linecap="butt"/>
<circle cx="1298.90" cy="538.70" r="6.80" fill="#fff" stroke="#000" stroke-width="3"/>
<text transform="translate(1319.38,545.31) scale(0.9266,1)" font-family='"DejaVu Sans", "Liberation Sans", sans-serif' font-weight="bold" font-size="26.32" fill="#000">Control-Contra</text>
<defs><pattern id="dots" x="0" y="0" width="3" height="3" patternUnits="userSpaceOnUse">
<rect width="3" height="3" fill="#f3f3f3"/><rect x="0" y="0" width="1.2" height="1.2" fill="#c8c8c8"/></pattern>
<pattern id="hatch" x="0" y="0" width="18" height="18" patternUnits="userSpaceOnUse">
<rect width="18" height="18" fill="#fff"/>
<path d="M-4.5,22.5 L22.5,-4.5 M-4.5,4.5 L4.5,-4.5 M13.5,22.5 L22.5,13.5" stroke="#000" stroke-width="4.2"/></pattern>
<pattern id="hatchI" x="0" y="0" width="20" height="20" patternUnits="userSpaceOnUse">
<rect width="20" height="20" fill="#fff"/>
<path d="M-5,25 L25,-5 M-5,5 L5,-5 M15,25 L25,15" stroke="#000" stroke-width="4.5"/></pattern>
</defs>
<line x1="123.80" y1="1089.00" x2="123.80" y2="1356.50" stroke="#000" stroke-width="4" stroke-linecap="butt"/>
<line x1="118.90" y1="1354.80" x2="503.50" y2="1354.80" stroke="#000" stroke-width="4" stroke-linecap="butt"/>
<line x1="117.20" y1="1354.80" x2="123.80" y2="1354.80" stroke="#000" stroke-width="4" stroke-linecap="butt"/>
<line x1="117.20" y1="1288.40" x2="123.80" y2="1288.40" stroke="#000" stroke-width="4" stroke-linecap="butt"/>
<line x1="117.20" y1="1222.00" x2="123.80" y2="1222.00" stroke="#000" stroke-width="4" stroke-linecap="butt"/>
<line x1="117.20" y1="1155.60" x2="123.80" y2="1155.60" stroke="#000" stroke-width="4" stroke-linecap="butt"/>
<line x1="117.20" y1="1089.20" x2="123.80" y2="1089.20" stroke="#000" stroke-width="4" stroke-linecap="butt"/>
<line x1="172.50" y1="1308.59" x2="172.50" y2="1269.81" stroke="#000" stroke-width="3" stroke-linecap="butt"/>
<rect x="169.10" y="1268.31" width="6.80" height="3.50" fill="#000"/>
<rect x="146.80" y="1310.09" width="51.40" height="44.71" fill="url(#dots)" stroke="#000" stroke-width="3"/>
<line x1="267.10" y1="1210.45" x2="267.10" y2="1171.00" stroke="#000" stroke-width="3" stroke-linecap="butt"/>
<rect x="263.70" y="1169.50" width="6.80" height="3.50" fill="#000"/>
<rect x="241.90" y="1211.95" width="50.40" height="142.85" fill="url(#dots)" stroke="#000" stroke-width="3"/>
<line x1="361.55" y1="1298.76" x2="361.55" y2="1282.16" stroke="#000" stroke-width="3" stroke-linecap="butt"/>
<rect x="358.15" y="1280.66" width="6.80" height="3.50" fill="#000"/>
<rect x="336.60" y="1300.26" width="49.90" height="54.54" fill="url(#dots)" stroke="#000" stroke-width="3"/>
<line x1="456.30" y1="1254.14" x2="456.30" y2="1244.97" stroke="#000" stroke-width="3" stroke-linecap="butt"/>
<rect x="452.90" y="1243.47" width="6.80" height="3.50" fill="#000"/>
<rect x="431.40" y="1255.64" width="49.80" height="99.16" fill="url(#dots)" stroke="#000" stroke-width="3"/>
<text transform="translate(262.59,1161.10) scale(1.1062,1)" font-family='"Liberation Sans", Arial, sans-serif' font-weight="bold" font-size="26.47" fill="#000">#</text>
<text transform="translate(78.71,1097.53) scale(0.8499,1)" font-family='"Liberation Sans", Arial, sans-serif' font-weight="bold" font-size="26.71" fill="#000">20</text>
<text transform="translate(77.72,1163.45) scale(0.8499,1)" font-family='"Liberation Sans", Arial, sans-serif' font-weight="bold" font-size="26.71" fill="#000">15</text>
<text transform="translate(78.01,1229.98) scale(0.8499,1)" font-family='"Liberation Sans", Arial, sans-serif' font-weight="bold" font-size="26.71" fill="#000">10</text>
<text transform="translate(90.32,1296.25) scale(0.8499,1)" font-family='"Liberation Sans", Arial, sans-serif' font-weight="bold" font-size="26.71" fill="#000">5</text>
<text transform="translate(90.61,1362.78) scale(0.8499,1)" font-family='"Liberation Sans", Arial, sans-serif' font-weight="bold" font-size="26.71" fill="#000">0</text>
<text transform="translate(166.39,1390.33) scale(0.8511,1)" font-family='"Liberation Sans", Arial, sans-serif' font-weight="bold" font-size="26.71" fill="#000">0</text>
<text transform="translate(260.98,1390.33) scale(0.8511,1)" font-family='"Liberation Sans", Arial, sans-serif' font-weight="bold" font-size="26.71" fill="#000">4</text>
<text transform="translate(355.96,1390.33) scale(0.8511,1)" font-family='"Liberation Sans", Arial, sans-serif' font-weight="bold" font-size="26.71" fill="#000">8</text>
<text transform="translate(444.80,1390.47) scale(0.8511,1)" font-family='"Liberation Sans", Arial, sans-serif' font-weight="bold" font-size="26.71" fill="#000">12</text>
<text transform="translate(238.39,1421.89) scale(0.8350,1)" font-family='"Liberation Sans", Arial, sans-serif' font-weight="bold" font-size="25.09" fill="#000">Time ( weeks )</text>
<text transform="translate(24.34,1299.96) rotate(-90) scale(1.0053,1)" font-family='"Liberation Sans", Arial, sans-serif' font-weight="bold" font-size="25.95" fill="#000">Mouse TNF-α</text>
<text transform="translate(58.62,1356.75) rotate(-90) scale(1.1632,1)" font-family='"Liberation Sans", Arial, sans-serif' font-weight="bold" font-size="22.51" fill="#000">Concentration (pg/mL)</text>
<line x1="665.70" y1="1087.00" x2="665.70" y2="1353.50" stroke="#000" stroke-width="4" stroke-linecap="butt"/>
<line x1="658.90" y1="1351.70" x2="1044.60" y2="1351.70" stroke="#000" stroke-width="4" stroke-linecap="butt"/>
<line x1="658.90" y1="1351.70" x2="665.70" y2="1351.70" stroke="#000" stroke-width="4" stroke-linecap="butt"/>
<line x1="658.90" y1="1298.78" x2="665.70" y2="1298.78" stroke="#000" stroke-width="4" stroke-linecap="butt"/>
<line x1="658.90" y1="1245.85" x2="665.70" y2="1245.85" stroke="#000" stroke-width="4" stroke-linecap="butt"/>
<line x1="658.90" y1="1192.92" x2="665.70" y2="1192.92" stroke="#000" stroke-width="4" stroke-linecap="butt"/>
<line x1="658.90" y1="1140.00" x2="665.70" y2="1140.00" stroke="#000" stroke-width="4" stroke-linecap="butt"/>
<line x1="658.90" y1="1087.08" x2="665.70" y2="1087.08" stroke="#000" stroke-width="4" stroke-linecap="butt"/>
<line x1="714.40" y1="1351.70" x2="714.40" y2="1341.33" stroke="#000" stroke-width="3" stroke-linecap="butt"/>
<rect x="711.00" y="1339.83" width="6.80" height="3.50" fill="#000"/>
<line x1="808.85" y1="1303.64" x2="808.85" y2="1291.79" stroke="#000" stroke-width="3" stroke-linecap="butt"/>
<rect x="805.45" y="1290.29" width="6.80" height="3.50" fill="#000"/>
<rect x="783.80" y="1305.14" width="50.10" height="46.56" fill="url(#dots)" stroke="#000" stroke-width="3"/>
<line x1="903.15" y1="1297.93" x2="903.15" y2="1270.41" stroke="#000" stroke-width="3" stroke-linecap="butt"/>
<rect x="899.75" y="1268.91" width="6.80" height="3.50" fill="#000"/>
<rect x="878.10" y="1299.43" width="50.10" height="52.27" fill="url(#dots)" stroke="#000" stroke-width="3"/>
<line x1="997.95" y1="1173.45" x2="997.95" y2="1109.94" stroke="#000" stroke-width="3" stroke-linecap="butt"/>
<rect x="994.55" y="1108.44" width="6.80" height="3.50" fill="#000"/>
<rect x="973.40" y="1174.95" width="49.10" height="176.75" fill="url(#dots)" stroke="#000" stroke-width="3"/>
<text transform="translate(805.12,1275.34) scale(1.0524,1)" font-family='"Liberation Sans", Arial, sans-serif' font-weight="bold" font-size="30.60" fill="#000">*</text>
<text transform="translate(898.42,1263.34) scale(1.0524,1)" font-family='"Liberation Sans", Arial, sans-serif' font-weight="bold" font-size="30.60" fill="#000">*</text>
<text transform="translate(989.62,1110.74) scale(1.0524,1)" font-family='"Liberation Sans", Arial, sans-serif' font-weight="bold" font-size="30.60" fill="#000">*</text>
<text transform="translate(607.47,1094.42) scale(0.7688,1)" font-family='"Liberation Sans", Arial, sans-serif' font-weight="bold" font-size="27.70" fill="#000">125</text>
<text transform="translate(607.04,1147.02) scale(0.7688,1)" font-family='"Liberation Sans", Arial, sans-serif' font-weight="bold" font-size="27.70" fill="#000">100</text>
<text transform="translate(618.64,1199.81) scale(0.7688,1)" font-family='"Liberation Sans", Arial, sans-serif' font-weight="bold" font-size="27.70" fill="#000">75</text>
<text transform="translate(618.91,1252.87) scale(0.7688,1)" font-family='"Liberation Sans", Arial, sans-serif' font-weight="bold" font-size="27.70" fill="#000">50</text>
<text transform="translate(618.64,1305.80) scale(0.7688,1)" font-family='"Liberation Sans", Arial, sans-serif' font-weight="bold" font-size="27.70" fill="#000">25</text>
<text transform="translate(630.73,1358.72) scale(0.7688,1)" font-family='"Liberation Sans", Arial, sans-serif' font-weight="bold" font-size="27.70" fill="#000">0</text>
<text transform="translate(706.75,1388.72) scale(0.8587,1)" font-family='"Liberation Sans", Arial, sans-serif' font-weight="bold" font-size="27.70" fill="#000">0</text>
<text transform="translate(801.88,1388.72) scale(0.8587,1)" font-family='"Liberation Sans", Arial, sans-serif' font-weight="bold" font-size="27.70" fill="#000">4</text>
<text transform="translate(895.67,1388.72) scale(0.8587,1)" font-family='"Liberation Sans", Arial, sans-serif' font-weight="bold" font-size="27.70" fill="#000">8</text>
<text transform="translate(984.20,1388.86) scale(0.8587,1)" font-family='"Liberation Sans", Arial, sans-serif' font-weight="bold" font-size="27.70" fill="#000">12</text>
<text transform="translate(784.09,1423.09) scale(0.8457,1)" font-family='"Liberation Sans", Arial, sans-serif' font-weight="bold" font-size="25.09" fill="#000">Time ( weeks )</text>
<text transform="translate(556.66,1289.19) rotate(-90) scale(1.0815,1)" font-family='"Liberation Sans", Arial, sans-serif' font-weight="bold" font-size="24.45" fill="#000">Mouse IL-6</text>
<text transform="translate(592.95,1360.78) rotate(-90) scale(1.1119,1)" font-family='"Liberation Sans", Arial, sans-serif' font-weight="bold" font-size="24.21" fill="#000">Concentration (pg/mL)</text>
<line x1="1181.20" y1="1092.00" x2="1181.20" y2="1349.50" stroke="#000" stroke-width="5.2" stroke-linecap="butt"/>
<line x1="1176.00" y1="1347.20" x2="1557.00" y2="1347.20" stroke="#000" stroke-width="5.2" stroke-linecap="butt"/>
<line x1="1175.50" y1="1092.00" x2="1181.20" y2="1092.00" stroke="#000" stroke-width="4" stroke-linecap="butt"/>
<line x1="1175.50" y1="1156.00" x2="1181.20" y2="1156.00" stroke="#000" stroke-width="4" stroke-linecap="butt"/>
<line x1="1175.50" y1="1220.00" x2="1181.20" y2="1220.00" stroke="#000" stroke-width="4" stroke-linecap="butt"/>
<line x1="1175.50" y1="1284.00" x2="1181.20" y2="1284.00" stroke="#000" stroke-width="4" stroke-linecap="butt"/>
<line x1="1175.50" y1="1348.00" x2="1181.20" y2="1348.00" stroke="#000" stroke-width="4" stroke-linecap="butt"/>
<line x1="1305.70" y1="1347.20" x2="1305.70" y2="1351.00" stroke="#000" stroke-width="4" stroke-linecap="butt"/>
<line x1="1429.90" y1="1347.20" x2="1429.90" y2="1351.00" stroke="#000" stroke-width="4" stroke-linecap="butt"/>
<line x1="1554.10" y1="1347.20" x2="1554.10" y2="1351.00" stroke="#000" stroke-width="4" stroke-linecap="butt"/>
<text transform="translate(1120.11,1104.76) scale(1.0758,1)" font-family='"Liberation Sans", Arial, sans-serif' font-weight="bold" font-size="23.94" fill="#000">7.5</text>
<text transform="translate(1141.30,1168.93) scale(1.0758,1)" font-family='"Liberation Sans", Arial, sans-serif' font-weight="bold" font-size="23.94" fill="#000">7</text>
<text transform="translate(1119.41,1231.23) scale(1.0758,1)" font-family='"Liberation Sans", Arial, sans-serif' font-weight="bold" font-size="23.94" fill="#000">6.5</text>
<text transform="translate(1141.11,1292.53) scale(1.0758,1)" font-family='"Liberation Sans", Arial, sans-serif' font-weight="bold" font-size="23.94" fill="#000">6</text>
<text transform="translate(1119.41,1356.81) scale(1.0758,1)" font-family='"Liberation Sans", Arial, sans-serif' font-weight="bold" font-size="23.94" fill="#000">5.5</text>
<text transform="translate(1171.48,1384.99) scale(1.4692,1)" font-family='"Liberation Sans", Arial, sans-serif' font-weight="bold" font-size="20.78" fill="#000">0</text>
<text transform="translate(1295.63,1384.99) scale(1.4692,1)" font-family='"Liberation Sans", Arial, sans-serif' font-weight="bold" font-size="20.78" fill="#000">4</text>
<text transform="translate(1419.19,1384.99) scale(1.4692,1)" font-family='"Liberation Sans", Arial, sans-serif' font-weight="bold" font-size="20.78" fill="#000">8</text>
<text transform="translate(1535.78,1385.10) scale(1.4692,1)" font-family='"Liberation Sans", Arial, sans-serif' font-weight="bold" font-size="20.78" fill="#000">12</text>
<text transform="translate(1271.96,1423.61) scale(1.0790,1)" font-family='"Liberation Sans", Arial, sans-serif' font-weight="bold" font-size="31.74" fill="#000">Time (Week)</text>
<text transform="translate(1100.19,1249.56) rotate(-90) scale(0.8681,1)" font-family='"Liberation Sans", Arial, sans-serif' font-weight="bold" font-size="34.75" fill="#000">pH</text>
<line x1="1181.50" y1="1132.96" x2="1181.50" y2="1163.68" stroke="#000" stroke-width="4" stroke-linecap="butt"/>
<line x1="1171.50" y1="1132.96" x2="1191.50" y2="1132.96" stroke="#000" stroke-width="4" stroke-linecap="butt"/>
<line x1="1171.50" y1="1163.68" x2="1191.50" y2="1163.68" stroke="#000" stroke-width="4" stroke-linecap="butt"/>
<line x1="1181.50" y1="1143.20" x2="1181.50" y2="1163.68" stroke="#000" stroke-width="4" stroke-linecap="butt"/>
<line x1="1171.50" y1="1143.20" x2="1191.50" y2="1143.20" stroke="#000" stroke-width="4" stroke-linecap="butt"/>
<line x1="1171.50" y1="1163.68" x2="1191.50" y2="1163.68" stroke="#000" stroke-width="4" stroke-linecap="butt"/>
<line x1="1305.70" y1="1240.48" x2="1305.70" y2="1277.60" stroke="#000" stroke-width="4" stroke-linecap="butt"/>
<line x1="1295.70" y1="1240.48" x2="1315.70" y2="1240.48" stroke="#000" stroke-width="4" stroke-linecap="butt"/>
<line x1="1295.70" y1="1277.60" x2="1315.70" y2="1277.60" stroke="#000" stroke-width="4" stroke-linecap="butt"/>
<line x1="1305.70" y1="1198.24" x2="1305.70" y2="1240.48" stroke="#000" stroke-width="4" stroke-linecap="butt"/>
<line x1="1295.70" y1="1198.24" x2="1315.70" y2="1198.24" stroke="#000" stroke-width="4" stroke-linecap="butt"/>
<line x1="1295.70" y1="1240.48" x2="1315.70" y2="1240.48" stroke="#000" stroke-width="4" stroke-linecap="butt"/>
<line x1="1429.90" y1="1250.72" x2="1429.90" y2="1290.40" stroke="#000" stroke-width="4" stroke-linecap="butt"/>
<line x1="1419.90" y1="1250.72" x2="1439.90" y2="1250.72" stroke="#000" stroke-width="4" stroke-linecap="butt"/>
<line x1="1419.90" y1="1290.40" x2="1439.90" y2="1290.40" stroke="#000" stroke-width="4" stroke-linecap="butt"/>
<line x1="1429.90" y1="1202.08" x2="1429.90" y2="1250.72" stroke="#000" stroke-width="4" stroke-linecap="butt"/>
<line x1="1419.90" y1="1202.08" x2="1439.90" y2="1202.08" stroke="#000" stroke-width="4" stroke-linecap="butt"/>
<line x1="1419.90" y1="1250.72" x2="1439.90" y2="1250.72" stroke="#000" stroke-width="4" stroke-linecap="butt"/>
<line x1="1554.10" y1="1163.68" x2="1554.10" y2="1258.40" stroke="#000" stroke-width="4" stroke-linecap="butt"/>
<line x1="1544.10" y1="1163.68" x2="1564.10" y2="1163.68" stroke="#000" stroke-width="4" stroke-linecap="butt"/>
<line x1="1544.10" y1="1258.40" x2="1564.10" y2="1258.40" stroke="#000" stroke-width="4" stroke-linecap="butt"/>
<line x1="1554.10" y1="1163.68" x2="1554.10" y2="1193.12" stroke="#000" stroke-width="4" stroke-linecap="butt"/>
<line x1="1544.10" y1="1163.68" x2="1564.10" y2="1163.68" stroke="#000" stroke-width="4" stroke-linecap="butt"/>
<line x1="1544.10" y1="1193.12" x2="1564.10" y2="1193.12" stroke="#000" stroke-width="4" stroke-linecap="butt"/>
<polyline points="1181.50,1145.76 1305.70,1260.96 1429.90,1260.96 1554.10,1213.60" fill="none" stroke="#000" stroke-width="3.6" stroke-linejoin="round"/>
<polyline points="1181.50,1153.44 1305.70,1225.12 1429.90,1225.89 1554.10,1176.48" fill="none" stroke="#000" stroke-width="3.6" stroke-linejoin="round"/>
<circle cx="1181.50" cy="1145.76" r="9.00" fill="#000"/>
<circle cx="1305.70" cy="1260.96" r="9.00" fill="#000"/>
<circle cx="1429.90" cy="1260.96" r="9.00" fill="#000"/>
<circle cx="1554.10" cy="1213.60" r="9.00" fill="#000"/>
<circle cx="1181.50" cy="1153.44" r="7.60" fill="#fff" stroke="#000" stroke-width="3.4"/>
<circle cx="1305.70" cy="1225.12" r="7.60" fill="#fff" stroke="#000" stroke-width="3.4"/>
<circle cx="1429.90" cy="1225.89" r="7.60" fill="#fff" stroke="#000" stroke-width="3.4"/>
<circle cx="1554.10" cy="1176.48" r="7.60" fill="#fff" stroke="#000" stroke-width="3.4"/>
<text transform="translate(1301.23,1309.37) scale(1.1475,1)" font-family='"Liberation Sans", Arial, sans-serif' font-weight="bold" font-size="23.09" fill="#000">*</text>
<text transform="translate(1412.63,1325.10) scale(1.1884,1)" font-family='"Liberation Sans", Arial, sans-serif' font-weight="bold" font-size="24.43" fill="#000">**</text>
<line x1="1351.20" y1="1104.00" x2="1419.10" y2="1104.00" stroke="#000" stroke-width="3.6" stroke-linecap="butt"/>
<circle cx="1386.60" cy="1104.00" r="7.20" fill="#000"/>
<text transform="translate(1424.51,1116.73) scale(1.1901,1)" font-family='"Liberation Sans", Arial, sans-serif' font-weight="bold" font-size="23.49" fill="#000">Ipsi</text>
<line x1="1351.20" y1="1148.00" x2="1419.10" y2="1148.00" stroke="#000" stroke-width="3.6" stroke-linecap="butt"/>
<circle cx="1386.60" cy="1148.00" r="6.00" fill="#fff" stroke="#000" stroke-width="3.2"/>
<text transform="translate(1426.03,1160.67) scale(1.1545,1)" font-family='"Liberation Sans", Arial, sans-serif' font-weight="bold" font-size="23.18" fill="#000">Contra</text>
<line x1="173.00" y1="1587.70" x2="173.00" y2="1916.00" stroke="#000" stroke-width="4" stroke-linecap="butt"/>
<line x1="164.30" y1="1914.30" x2="761.30" y2="1914.30" stroke="#000" stroke-width="4" stroke-linecap="butt"/>
<line x1="164.70" y1="1914.30" x2="173.00" y2="1914.30" stroke="#000" stroke-width="4" stroke-linecap="butt"/>
<line x1="164.70" y1="1832.70" x2="173.00" y2="1832.70" stroke="#000" stroke-width="4" stroke-linecap="butt"/>
<line x1="164.70" y1="1751.10" x2="173.00" y2="1751.10" stroke="#000" stroke-width="4" stroke-linecap="butt"/>
<line x1="164.70" y1="1669.50" x2="173.00" y2="1669.50" stroke="#000" stroke-width="4" stroke-linecap="butt"/>
<line x1="164.70" y1="1587.90" x2="173.00" y2="1587.90" stroke="#000" stroke-width="4" stroke-linecap="butt"/>
<rect x="200.95" y="1875.25" width="32.50" height="39.05" fill="#fff" stroke="#000" stroke-width="3.5"/>
<line x1="253.20" y1="1798.02" x2="253.20" y2="1778.44" stroke="#000" stroke-width="3.5" stroke-linecap="butt"/>
<line x1="242.20" y1="1778.44" x2="264.20" y2="1778.44" stroke="#000" stroke-width="4" stroke-linecap="butt"/>
<rect x="236.95" y="1799.77" width="32.50" height="114.53" fill="#8f8f8f" stroke="#000" stroke-width="3.5"/>
<line x1="289.20" y1="1865.34" x2="289.20" y2="1858.81" stroke="#000" stroke-width="3.5" stroke-linecap="butt"/>
<line x1="278.20" y1="1858.81" x2="300.20" y2="1858.81" stroke="#000" stroke-width="4" stroke-linecap="butt"/>
<rect x="272.95" y="1867.09" width="32.50" height="47.21" fill="#111" stroke="#000" stroke-width="3.5"/>
<line x1="325.20" y1="1795.57" x2="325.20" y2="1780.88" stroke="#000" stroke-width="3.5" stroke-linecap="butt"/>
<line x1="314.20" y1="1780.88" x2="336.20" y2="1780.88" stroke="#000" stroke-width="4" stroke-linecap="butt"/>
<rect x="308.95" y="1797.32" width="32.50" height="116.98" fill="url(#hatch)" stroke="#000" stroke-width="3.5"/>
<line x1="413.40" y1="1873.91" x2="413.40" y2="1869.83" stroke="#000" stroke-width="3.5" stroke-linecap="butt"/>
<line x1="402.40" y1="1869.83" x2="424.40" y2="1869.83" stroke="#000" stroke-width="4" stroke-linecap="butt"/>
<rect x="397.15" y="1875.66" width="32.50" height="38.64" fill="#fff" stroke="#000" stroke-width="3.5"/>
<line x1="449.40" y1="1856.77" x2="449.40" y2="1846.57" stroke="#000" stroke-width="3.5" stroke-linecap="butt"/>
<line x1="438.40" y1="1846.57" x2="460.40" y2="1846.57" stroke="#000" stroke-width="4" stroke-linecap="butt"/>
<rect x="433.15" y="1858.52" width="32.50" height="55.78" fill="#8f8f8f" stroke="#000" stroke-width="3.5"/>
<line x1="485.40" y1="1861.26" x2="485.40" y2="1850.65" stroke="#000" stroke-width="3.5" stroke-linecap="butt"/>
<line x1="474.40" y1="1850.65" x2="496.40" y2="1850.65" stroke="#000" stroke-width="4" stroke-linecap="butt"/>
<rect x="469.15" y="1863.01" width="32.50" height="51.29" fill="#111" stroke="#000" stroke-width="3.5"/>
<line x1="521.40" y1="1883.29" x2="521.40" y2="1879.21" stroke="#000" stroke-width="3.5" stroke-linecap="butt"/>
<line x1="510.40" y1="1879.21" x2="532.40" y2="1879.21" stroke="#000" stroke-width="4" stroke-linecap="butt"/>
<rect x="505.15" y="1885.04" width="32.50" height="29.26" fill="url(#hatch)" stroke="#000" stroke-width="3.5"/>
<rect x="594.05" y="1885.04" width="32.50" height="29.26" fill="#fff" stroke="#000" stroke-width="3.5"/>
<line x1="646.30" y1="1881.25" x2="646.30" y2="1878.80" stroke="#000" stroke-width="3.5" stroke-linecap="butt"/>
<line x1="635.30" y1="1878.80" x2="657.30" y2="1878.80" stroke="#000" stroke-width="4" stroke-linecap="butt"/>
<rect x="630.05" y="1883.00" width="32.50" height="31.30" fill="#8f8f8f" stroke="#000" stroke-width="3.5"/>
<line x1="682.30" y1="1854.32" x2="682.30" y2="1840.45" stroke="#000" stroke-width="3.5" stroke-linecap="butt"/>
<line x1="671.30" y1="1840.45" x2="693.30" y2="1840.45" stroke="#000" stroke-width="4" stroke-linecap="butt"/>
<rect x="666.05" y="1856.07" width="32.50" height="58.23" fill="#111" stroke="#000" stroke-width="3.5"/>
<line x1="718.30" y1="1640.12" x2="718.30" y2="1619.32" stroke="#000" stroke-width="3.5" stroke-linecap="butt"/>
<line x1="707.30" y1="1619.32" x2="729.30" y2="1619.32" stroke="#000" stroke-width="4" stroke-linecap="butt"/>
<rect x="702.05" y="1641.87" width="32.50" height="272.43" fill="url(#hatch)" stroke="#000" stroke-width="3.5"/>
<text transform="translate(239.93,1774.23) scale(1.1415,1)" font-family='"Liberation Sans", Arial, sans-serif' font-weight="bold" font-size="23.89" fill="#000">*</text>
<text transform="translate(323.23,1768.54) scale(1.1434,1)" font-family='"Liberation Sans", Arial, sans-serif' font-weight="bold" font-size="23.62" fill="#000">*</text>
<text transform="translate(707.21,1605.73) scale(1.3100,1)" font-family='"Liberation Sans", Arial, sans-serif' font-weight="bold" font-size="27.38" fill="#000">***</text>
<rect x="212.00" y="1659.50" width="20.50" height="20.50" fill="#fff" stroke="#000" stroke-width="4"/>
<rect x="347.00" y="1659.50" width="20.50" height="20.50" fill="#8f8f8f" stroke="#000" stroke-width="4"/>
<rect x="212.00" y="1707.00" width="20.50" height="20.50" fill="#111" stroke="#000" stroke-width="4"/>
<rect x="347.00" y="1707.00" width="20.50" height="20.50" fill="#fff" stroke="#000" stroke-width="4"/>
<line x1="349.00" y1="1725.00" x2="364.00" y2="1710.00" stroke="#000" stroke-width="3" stroke-linecap="butt"/>
<text transform="translate(241.31,1683.68) scale(1.0863,1)" font-family='"Liberation Sans", Arial, sans-serif' font-weight="bold" font-size="32.08" fill="#000">0W</text>
<text transform="translate(376.69,1684.40) scale(1.0333,1)" font-family='"Liberation Sans", Arial, sans-serif' font-weight="bold" font-size="33.16" fill="#000">4W</text>
<text transform="translate(241.57,1731.59) scale(1.1202,1)" font-family='"Liberation Sans", Arial, sans-serif' font-weight="bold" font-size="30.95" fill="#000">8W</text>
<text transform="translate(375.96,1732.60) scale(1.0643,1)" font-family='"Liberation Sans", Arial, sans-serif' font-weight="bold" font-size="32.11" fill="#000">12W</text>
<text transform="translate(336.70,1596.83) scale(1.0629,1)" font-family='"Liberation Sans", Arial, sans-serif' font-weight="bold" font-size="43.22" fill="#000">Ipsilateral</text>
<text transform="translate(227.13,1975.08) scale(0.9234,1)" font-family='"Liberation Sans", Arial, sans-serif' font-weight="bold" font-size="33.52" fill="#000">ASIC3</text>
<text transform="translate(416.49,1975.50) scale(0.9042,1)" font-family='"Liberation Sans", Arial, sans-serif' font-weight="bold" font-size="34.62" fill="#000">TRPV1</text>
<text transform="translate(608.38,1975.16) scale(0.9626,1)" font-family='"Liberation Sans", Arial, sans-serif' font-weight="bold" font-size="33.64" fill="#000">TDAG8</text>
<text transform="translate(128.44,1601.23) scale(1.1080,1)" font-family='"Liberation Sans", Arial, sans-serif' font-weight="bold" font-size="26.57" fill="#000">8</text>
<text transform="translate(128.44,1681.93) scale(1.1080,1)" font-family='"Liberation Sans", Arial, sans-serif' font-weight="bold" font-size="26.57" fill="#000">6</text>
<text transform="translate(128.33,1763.53) scale(1.1080,1)" font-family='"Liberation Sans", Arial, sans-serif' font-weight="bold" font-size="26.57" fill="#000">4</text>
<text transform="translate(128.52,1845.27) scale(1.1080,1)" font-family='"Liberation Sans", Arial, sans-serif' font-weight="bold" font-size="26.57" fill="#000">2</text>
<text transform="translate(128.48,1926.73) scale(1.1080,1)" font-family='"Liberation Sans", Arial, sans-serif' font-weight="bold" font-size="26.57" fill="#000">0</text>
<text transform="translate(72.50,1864.19) rotate(-90) scale(0.9039,1)" font-family='"Liberation Sans", Arial, sans-serif' font-weight="bold" font-size="34.21" fill="#000">Expression level</text>
<text transform="translate(117.10,1784.75) rotate(-90) scale(0.9059,1)" font-family='"Liberation Sans", Arial, sans-serif' font-weight="bold" font-size="34.21" fill="#000">(Fold)</text>
<line x1="966.00" y1="1598.40" x2="966.00" y2="1920.50" stroke="#000" stroke-width="4" stroke-linecap="butt"/>
<line x1="954.70" y1="1918.50" x2="1552.70" y2="1918.50" stroke="#000" stroke-width="4" stroke-linecap="butt"/>
<line x1="954.70" y1="1918.60" x2="966.00" y2="1918.60" stroke="#000" stroke-width="4" stroke-linecap="butt"/>
<line x1="954.70" y1="1838.40" x2="966.00" y2="1838.40" stroke="#000" stroke-width="4" stroke-linecap="butt"/>
<line x1="954.70" y1="1758.20" x2="966.00" y2="1758.20" stroke="#000" stroke-width="4" stroke-linecap="butt"/>
<line x1="954.70" y1="1678.00" x2="966.00" y2="1678.00" stroke="#000" stroke-width="4" stroke-linecap="butt"/>
<line x1="954.70" y1="1597.80" x2="966.00" y2="1597.80" stroke="#000" stroke-width="4" stroke-linecap="butt"/>
<line x1="1010.60" y1="1882.91" x2="1010.60" y2="1880.30" stroke="#000" stroke-width="3.5" stroke-linecap="butt"/>
<line x1="999.60" y1="1880.30" x2="1021.60" y2="1880.30" stroke="#000" stroke-width="4" stroke-linecap="butt"/>
<rect x="993.55" y="1884.66" width="34.10" height="33.84" fill="#fff" stroke="#000" stroke-width="3.5"/>
<line x1="1046.20" y1="1896.54" x2="1046.20" y2="1890.13" stroke="#000" stroke-width="3.5" stroke-linecap="butt"/>
<line x1="1035.20" y1="1890.13" x2="1057.20" y2="1890.13" stroke="#000" stroke-width="4" stroke-linecap="butt"/>
<rect x="1031.15" y="1898.29" width="30.10" height="20.21" fill="#8f8f8f" stroke="#000" stroke-width="3.5"/>
<line x1="1082.25" y1="1884.92" x2="1082.25" y2="1882.91" stroke="#000" stroke-width="3.5" stroke-linecap="butt"/>
<line x1="1071.25" y1="1882.91" x2="1093.25" y2="1882.91" stroke="#000" stroke-width="4" stroke-linecap="butt"/>
<rect x="1064.75" y="1886.67" width="35.00" height="31.83" fill="#111" stroke="#000" stroke-width="3.5"/>
<line x1="1118.80" y1="1903.36" x2="1118.80" y2="1901.76" stroke="#000" stroke-width="3.5" stroke-linecap="butt"/>
<line x1="1107.80" y1="1901.76" x2="1129.80" y2="1901.76" stroke="#000" stroke-width="4" stroke-linecap="butt"/>
<rect x="1103.25" y="1905.11" width="31.10" height="13.39" fill="url(#hatchI)" stroke="#000" stroke-width="3.5"/>
<line x1="1205.10" y1="1879.70" x2="1205.10" y2="1875.69" stroke="#000" stroke-width="3.5" stroke-linecap="butt"/>
<line x1="1194.10" y1="1875.69" x2="1216.10" y2="1875.69" stroke="#000" stroke-width="4" stroke-linecap="butt"/>
<rect x="1188.55" y="1881.45" width="33.10" height="37.05" fill="#fff" stroke="#000" stroke-width="3.5"/>
<line x1="1242.45" y1="1878.10" x2="1242.45" y2="1871.68" stroke="#000" stroke-width="3.5" stroke-linecap="butt"/>
<line x1="1231.45" y1="1871.68" x2="1253.45" y2="1871.68" stroke="#000" stroke-width="4" stroke-linecap="butt"/>
<rect x="1225.15" y="1879.85" width="34.60" height="38.65" fill="#8f8f8f" stroke="#000" stroke-width="3.5"/>
<line x1="1279.25" y1="1892.53" x2="1279.25" y2="1892.13" stroke="#000" stroke-width="3.5" stroke-linecap="butt"/>
<line x1="1268.25" y1="1892.13" x2="1290.25" y2="1892.13" stroke="#000" stroke-width="4" stroke-linecap="butt"/>
<rect x="1263.25" y="1894.28" width="32.00" height="24.22" fill="#111" stroke="#000" stroke-width="3.5"/>
<line x1="1314.25" y1="1900.96" x2="1314.25" y2="1898.95" stroke="#000" stroke-width="3.5" stroke-linecap="butt"/>
<line x1="1303.25" y1="1898.95" x2="1325.25" y2="1898.95" stroke="#000" stroke-width="4" stroke-linecap="butt"/>
<rect x="1298.75" y="1902.71" width="31.00" height="15.79" fill="url(#hatchI)" stroke="#000" stroke-width="3.5"/>
<line x1="1401.35" y1="1889.33" x2="1401.35" y2="1887.32" stroke="#000" stroke-width="3.5" stroke-linecap="butt"/>
<line x1="1390.35" y1="1887.32" x2="1412.35" y2="1887.32" stroke="#000" stroke-width="4" stroke-linecap="butt"/>
<rect x="1384.45" y="1891.08" width="33.80" height="27.42" fill="#fff" stroke="#000" stroke-width="3.5"/>
<line x1="1437.50" y1="1892.53" x2="1437.50" y2="1885.32" stroke="#000" stroke-width="3.5" stroke-linecap="butt"/>
<line x1="1426.50" y1="1885.32" x2="1448.50" y2="1885.32" stroke="#000" stroke-width="4" stroke-linecap="butt"/>
<rect x="1421.75" y="1894.28" width="31.50" height="24.22" fill="#8f8f8f" stroke="#000" stroke-width="3.5"/>
<line x1="1473.10" y1="1891.33" x2="1473.10" y2="1889.33" stroke="#000" stroke-width="3.5" stroke-linecap="butt"/>
<line x1="1462.10" y1="1889.33" x2="1484.10" y2="1889.33" stroke="#000" stroke-width="4" stroke-linecap="butt"/>
<rect x="1456.75" y="1893.08" width="32.70" height="25.42" fill="#111" stroke="#000" stroke-width="3.5"/>
<line x1="1509.90" y1="1891.33" x2="1509.90" y2="1889.33" stroke="#000" stroke-width="3.5" stroke-linecap="butt"/>
<line x1="1498.90" y1="1889.33" x2="1520.90" y2="1889.33" stroke="#000" stroke-width="4" stroke-linecap="butt"/>
<rect x="1492.95" y="1893.08" width="33.90" height="25.42" fill="url(#hatchI)" stroke="#000" stroke-width="3.5"/>
<text transform="translate(1115.91,1893.33) scale(1.3610,1)" font-family='"Liberation Sans", Arial, sans-serif' font-weight="bold" font-size="25.50" fill="#000">**</text>
<text transform="translate(1296.03,1892.03) scale(0.9770,1)" font-family='"Liberation Sans", Arial, sans-serif' font-weight="bold" font-size="27.38" fill="#000">*</text>
<rect x="1290.70" y="1669.10" width="20.70" height="20.40" fill="#fff" stroke="#000" stroke-width="4"/>
<rect x="1453.30" y="1669.10" width="20.70" height="20.40" fill="#8f8f8f" stroke="#000" stroke-width="4"/>
<rect x="1290.70" y="1721.50" width="20.70" height="20.40" fill="#111" stroke="#000" stroke-width="4"/>
<rect x="1453.30" y="1721.50" width="20.70" height="20.40" fill="#fff" stroke="#000" stroke-width="4"/>
<line x1="1455.30" y1="1739.50" x2="1472.00" y2="1723.50" stroke="#000" stroke-width="3" stroke-linecap="butt"/>
<text transform="translate(1320.59,1693.85) scale(1.0103,1)" font-family='"Liberation Sans", Arial, sans-serif' font-weight="bold" font-size="34.77" fill="#000">0W</text>
<text transform="translate(1483.39,1694.20) scale(0.9482,1)" font-family='"Liberation Sans", Arial, sans-serif' font-weight="bold" font-size="35.78" fill="#000">4W</text>
<text transform="translate(1320.86,1745.27) scale(1.0477,1)" font-family='"Liberation Sans", Arial, sans-serif' font-weight="bold" font-size="33.36" fill="#000">8W</text>
<text transform="translate(1482.73,1745.60) scale(1.0279,1)" font-family='"Liberation Sans", Arial, sans-serif' font-weight="bold" font-size="33.84" fill="#000">12W</text>
<text transform="translate(1100.23,1612.43) scale(0.9860,1)" font-family='"Liberation Sans", Arial, sans-serif' font-weight="bold" font-size="47.35" fill="#000">Contralateral</text>
<text transform="translate(1017.13,1983.85) scale(0.8686,1)" font-family='"Liberation Sans", Arial, sans-serif' font-weight="bold" font-size="35.63" fill="#000">ASIC3</text>
<text transform="translate(1206.98,1984.30) scale(0.8711,1)" font-family='"Liberation Sans", Arial, sans-serif' font-weight="bold" font-size="36.80" fill="#000">TRPV1</text>
<text transform="translate(1399.97,1983.94) scale(0.9139,1)" font-family='"Liberation Sans", Arial, sans-serif' font-weight="bold" font-size="35.76" fill="#000">TDAG8</text>
<text transform="translate(919.52,1608.34) scale(1.1555,1)" font-family='"Liberation Sans", Arial, sans-serif' font-weight="bold" font-size="26.01" fill="#000">8</text>
<text transform="translate(919.52,1690.24) scale(1.1555,1)" font-family='"Liberation Sans", Arial, sans-serif' font-weight="bold" font-size="26.01" fill="#000">6</text>
<text transform="translate(919.41,1770.44) scale(1.1555,1)" font-family='"Liberation Sans", Arial, sans-serif' font-weight="bold" font-size="26.01" fill="#000">4</text>
<text transform="translate(919.60,1850.77) scale(1.1555,1)" font-family='"Liberation Sans", Arial, sans-serif' font-weight="bold" font-size="26.01" fill="#000">2</text>
<text transform="translate(919.56,1930.84) scale(1.1555,1)" font-family='"Liberation Sans", Arial, sans-serif' font-weight="bold" font-size="26.01" fill="#000">0</text>
<text transform="translate(857.90,1878.15) rotate(-90) scale(1.0025,1)" font-family='"Liberation Sans", Arial, sans-serif' font-weight="bold" font-size="33.24" fill="#000">EXpression level</text>
<text transform="translate(904.00,1791.81) rotate(-90) scale(1.0289,1)" font-family='"Liberation Sans", Arial, sans-serif' font-weight="bold" font-size="33.24" fill="#000">(Fold)</text>
</svg>
</body></html>
